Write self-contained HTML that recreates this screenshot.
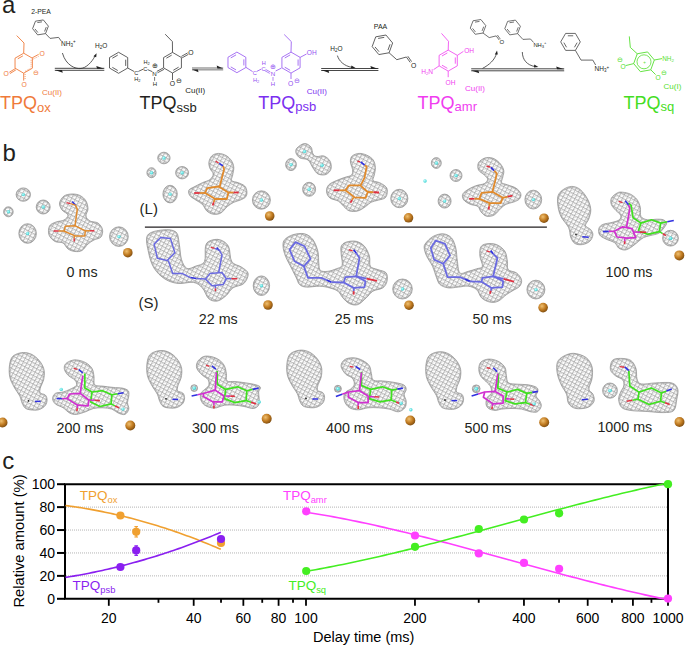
<!DOCTYPE html>
<html><head><meta charset="utf-8"><style>
html,body{margin:0;padding:0;background:#fff;}
svg{display:block;font-family:"Liberation Sans", sans-serif;}
</style></head><body>
<svg width="685" height="645" viewBox="0 0 685 645">
<rect width="685" height="645" fill="#fff"/>
<defs>
<pattern id="mesh" patternUnits="userSpaceOnUse" width="3.8" height="3.8" patternTransform="rotate(28)">
<rect width="3.8" height="3.8" fill="#fdfdfd"/>
<path d="M0,0.3 H3.8 M0.3,0 V3.8" stroke="#888" stroke-width="0.6"/>
<path d="M0,3.8 L3.8,0" stroke="#aaa" stroke-width="0.45"/>
</pattern>
<radialGradient id="cu" cx="0.38" cy="0.35" r="0.7"><stop offset="0" stop-color="#f0c070"/><stop offset="0.55" stop-color="#c07a20"/><stop offset="1" stop-color="#7a4a10"/></radialGradient>
<radialGradient id="cyan" cx="0.4" cy="0.4" r="0.7"><stop offset="0" stop-color="#c0ffff"/><stop offset="1" stop-color="#20c8c8"/></radialGradient>
</defs>
<g id="secA">
<text x="2" y="13.4" font-size="24" fill="#231f20" text-anchor="start" >a</text>
<text x="31.2" y="13.7" font-size="6.8" fill="#231f20" text-anchor="start" >2-PEA</text>
<polygon points="48.4,26.15 43.37,19.93 35.47,21.18 32.6,28.65 37.63,34.87 45.53,33.62" fill="none" stroke="#444" stroke-width="0.8" stroke-linejoin="round"/>
<line x1="41.96" y1="21.84" x2="37.39" y2="22.56" stroke="#444" stroke-width="0.8" />
<line x1="34.95" y1="28.92" x2="37.86" y2="32.51" stroke="#444" stroke-width="0.8" />
<line x1="44.59" y1="31.44" x2="46.24" y2="27.13" stroke="#444" stroke-width="0.8" />
<polyline points="45.5,33.6 50.1,38.4 58.6,37.4 61.2,41" fill="none" stroke="#444" stroke-width="0.8" />
<text x="61" y="45.7" font-size="6.5" fill="#231f20" text-anchor="start" >NH<tspan font-size="4.5" dy="1">3</tspan><tspan font-size="4.5" dy="-3.5">+</tspan></text>
<path d="M62.4,53 C66,66 76,68.8 80,68.6 C86,68.4 92,62 95,56" fill="none" stroke="#333" stroke-width="0.8"/>
<polygon points="96.6,53.3 93.4,56.2 96.2,57.2" fill="#222"/>
<text x="95" y="48.3" font-size="6.5" fill="#231f20" text-anchor="start" >H<tspan font-size="4.5" dy="1">2</tspan><tspan dy="-1">O</tspan></text>
<line x1="54.8" y1="68.3" x2="104.3" y2="68.3" stroke="#333" stroke-width="0.9" />
<line x1="54.8" y1="70.3" x2="104.3" y2="70.3" stroke="#333" stroke-width="0.9" />
<polygon points="104.3,68.7 96.3,65.9 97.1,68.7" fill="#222"/>
<polygon points="54.8,69.9 62.8,72.7 62,69.9" fill="#222"/>
<polygon points="23.7,53.2 15.04,58.2 15.04,68.2 23.7,73.2 32.36,68.2 32.36,58.2" fill="none" stroke="#ef7a3a" stroke-width="0.9" stroke-linejoin="round"/>
<line x1="22.89" y1="55.87" x2="17.76" y2="58.83" stroke="#ef7a3a" stroke-width="0.9" />
<polyline points="23.7,53.2 24,43 16.7,35.6" fill="none" stroke="#ef7a3a" stroke-width="0.9" />
<line x1="32.1" y1="57.9" x2="38.6" y2="54.4" stroke="#ef7a3a" stroke-width="0.9" />
<line x1="32.8" y1="59.3" x2="38.8" y2="56.2" stroke="#ef7a3a" stroke-width="0.7" stroke-dasharray="1,1"/>
<text x="39.4" y="55.6" font-size="6.8" fill="#ef7a3a" text-anchor="start" >O</text>
<line x1="15.3" y1="68.6" x2="9.3" y2="72.3" stroke="#ef7a3a" stroke-width="0.9" />
<line x1="15.9" y1="69.9" x2="9.9" y2="73.6" stroke="#ef7a3a" stroke-width="0.9" />
<text x="3.6" y="76" font-size="6.8" fill="#ef7a3a" text-anchor="start" >O</text>
<line x1="23.7" y1="73.2" x2="23.7" y2="80.6" stroke="#ef7a3a" stroke-width="0.9" />
<line x1="25.1" y1="74" x2="25.1" y2="80" stroke="#ef7a3a" stroke-width="0.7" stroke-dasharray="1,1"/>
<text x="21.6" y="86.8" font-size="6.8" fill="#ef7a3a" text-anchor="start" >O</text>
<line x1="31.1" y1="59.8" x2="31.1" y2="66.6" stroke="#ef7a3a" stroke-width="0.7" stroke-dasharray="1,1"/>
<line x1="25" y1="71.4" x2="30.6" y2="68.2" stroke="#ef7a3a" stroke-width="0.7" stroke-dasharray="1,1"/>
<text x="33.4" y="74.8" font-size="6.5" fill="#ef7a3a" text-anchor="start" >⊖</text>
<text x="42" y="95.3" font-size="8" fill="#ef7a3a" text-anchor="start" >Cu(II)</text>
<text x="0" y="108.9" font-size="18" fill="#ef7a3a" text-anchor="start" >TPQ<tspan font-size="13" dy="2.8">ox</tspan></text>
<polygon points="118.6,52.3 109.51,57.55 109.51,68.05 118.6,73.3 127.69,68.05 127.69,57.55" fill="none" stroke="#3a3a3a" stroke-width="0.8" stroke-linejoin="round"/>
<line x1="117.75" y1="55.1" x2="112.36" y2="58.21" stroke="#3a3a3a" stroke-width="0.8" />
<line x1="112.36" y1="67.39" x2="117.75" y2="70.5" stroke="#3a3a3a" stroke-width="0.8" />
<line x1="125.69" y1="65.91" x2="125.69" y2="59.69" stroke="#3a3a3a" stroke-width="0.8" />
<line x1="127.7" y1="68" x2="134.3" y2="71.6" stroke="#3a3a3a" stroke-width="0.8" />
<text x="136.2" y="74.8" font-size="5.6" fill="#231f20" text-anchor="middle" >C</text>
<text x="137.4" y="80.8" font-size="5.6" fill="#231f20" text-anchor="middle" >H<tspan font-size="4" dy="1">2</tspan></text>
<line x1="138.4" y1="71.4" x2="143.2" y2="69.2" stroke="#3a3a3a" stroke-width="0.8" />
<text x="145.3" y="70.9" font-size="5.6" fill="#231f20" text-anchor="middle" >C</text>
<text x="146.6" y="64.3" font-size="5.6" fill="#231f20" text-anchor="middle" >H<tspan font-size="4" dy="1">2</tspan></text>
<line x1="147.6" y1="69.6" x2="152.4" y2="71.7" stroke="#3a3a3a" stroke-width="0.8" />
<text x="154.6" y="75.7" font-size="6.2" fill="#231f20" text-anchor="middle" >N</text>
<text x="154.6" y="67.6" font-size="7" fill="#231f20" text-anchor="middle" >⊕</text>
<text x="154.9" y="86" font-size="6.0" fill="#231f20" text-anchor="middle" >H</text>
<line x1="154.6" y1="77" x2="154.6" y2="80.8" stroke="#3a3a3a" stroke-width="0.7" />
<line x1="156.8" y1="71.4" x2="163.4" y2="67.9" stroke="#3a3a3a" stroke-width="0.8" />
<line x1="157.5" y1="72.8" x2="164.1" y2="69.3" stroke="#3a3a3a" stroke-width="0.8" />
<polygon points="172.5,52.4 163.58,57.55 163.58,67.85 172.5,73 181.42,67.85 181.42,57.55" fill="none" stroke="#3a3a3a" stroke-width="0.8" stroke-linejoin="round"/>
<line x1="171.67" y1="55.15" x2="166.38" y2="58.2" stroke="#3a3a3a" stroke-width="0.8" />
<line x1="173.33" y1="70.25" x2="178.62" y2="67.2" stroke="#3a3a3a" stroke-width="0.8" />
<polyline points="172.5,52.4 172.4,41.6 165.2,34.2" fill="none" stroke="#3a3a3a" stroke-width="0.8" />
<line x1="181.4" y1="56.4" x2="187.6" y2="52.9" stroke="#3a3a3a" stroke-width="0.8" />
<line x1="182.2" y1="57.8" x2="188.4" y2="54.3" stroke="#3a3a3a" stroke-width="0.8" />
<text x="190.8" y="54.8" font-size="6.8" fill="#231f20" text-anchor="middle" >O</text>
<line x1="172.5" y1="73" x2="172.5" y2="80" stroke="#3a3a3a" stroke-width="0.8" />
<text x="172.3" y="85.8" font-size="6.8" fill="#231f20" text-anchor="middle" >O</text>
<text x="179.2" y="83.4" font-size="6.5" fill="#231f20" text-anchor="middle" >⊖</text>
<text x="185.2" y="92.9" font-size="8" fill="#231f20" text-anchor="start" >Cu(II)</text>
<text x="139.6" y="108.8" font-size="18" fill="#231f20" text-anchor="start" >TPQ<tspan font-size="13" dy="2.8">ssb</tspan></text>
<line x1="192" y1="68" x2="223.2" y2="68" stroke="#999" stroke-width="1.4" />
<line x1="192" y1="69.8" x2="223.2" y2="69.8" stroke="#999" stroke-width="1.4" />
<polygon points="223.2,68.4 216.7,65.6 217.35,68.4" fill="#222"/>
<polygon points="192,69.4 198.5,72.2 197.85,69.4" fill="#222"/>
<polygon points="236.9,52.1 227.98,57.25 227.98,67.55 236.9,72.7 245.82,67.55 245.82,57.25" fill="none" stroke="#9250f0" stroke-width="0.8" stroke-linejoin="round"/>
<line x1="236.07" y1="54.85" x2="230.78" y2="57.9" stroke="#9250f0" stroke-width="0.8" />
<line x1="230.78" y1="66.9" x2="236.07" y2="69.95" stroke="#9250f0" stroke-width="0.8" />
<line x1="243.86" y1="65.45" x2="243.86" y2="59.35" stroke="#9250f0" stroke-width="0.8" />
<line x1="246" y1="67.4" x2="252.6" y2="71.6" stroke="#9250f0" stroke-width="0.8" />
<text x="254.7" y="75.3" font-size="5.6" fill="#9250f0" text-anchor="middle" >C</text>
<text x="256.1" y="82" font-size="5.6" fill="#9250f0" text-anchor="middle" >H<tspan font-size="4" dy="1">2</tspan></text>
<line x1="256.8" y1="71.4" x2="261.4" y2="69" stroke="#9250f0" stroke-width="0.8" />
<text x="263.5" y="70.6" font-size="5.6" fill="#9250f0" text-anchor="middle" >C</text>
<text x="263.8" y="64.6" font-size="5.6" fill="#9250f0" text-anchor="middle" >H</text>
<line x1="265.6" y1="69.4" x2="270.4" y2="72" stroke="#9250f0" stroke-width="0.7" />
<line x1="265" y1="70.8" x2="269.8" y2="73.4" stroke="#9250f0" stroke-width="0.7" />
<text x="273" y="75.6" font-size="6.2" fill="#9250f0" text-anchor="middle" >N</text>
<text x="273" y="69" font-size="7" fill="#9250f0" text-anchor="middle" >⊕</text>
<text x="273" y="85.8" font-size="6.0" fill="#9250f0" text-anchor="middle" >H</text>
<line x1="273" y1="77" x2="273" y2="80.8" stroke="#9250f0" stroke-width="0.7" />
<line x1="275.6" y1="71" x2="281.5" y2="68.1" stroke="#9250f0" stroke-width="0.8" />
<polygon points="291,52.1 281.91,57.35 281.91,67.85 291,73.1 300.09,67.85 300.09,57.35" fill="none" stroke="#9250f0" stroke-width="0.8" stroke-linejoin="round"/>
<line x1="290.15" y1="54.9" x2="284.76" y2="58.01" stroke="#9250f0" stroke-width="0.8" />
<line x1="284.76" y1="67.19" x2="290.15" y2="70.3" stroke="#9250f0" stroke-width="0.8" />
<line x1="298.09" y1="65.71" x2="298.09" y2="59.49" stroke="#9250f0" stroke-width="0.8" />
<polyline points="291,52.1 291.3,41.6 284.2,34.5" fill="none" stroke="#9250f0" stroke-width="0.8" />
<line x1="300.1" y1="57.4" x2="306.5" y2="54" stroke="#9250f0" stroke-width="0.8" />
<text x="306.8" y="54.8" font-size="6.6" fill="#9250f0" text-anchor="start" >OH</text>
<line x1="291" y1="73.1" x2="291" y2="79" stroke="#9250f0" stroke-width="0.8" />
<text x="290.7" y="85.6" font-size="6.8" fill="#9250f0" text-anchor="middle" >O</text>
<text x="296.8" y="83.4" font-size="6.5" fill="#9250f0" text-anchor="middle" >⊖</text>
<text x="306.8" y="93.8" font-size="8" fill="#7b2ff0" text-anchor="start" >Cu(II)</text>
<text x="258.2" y="108.6" font-size="18" fill="#7b2ff0" text-anchor="start" >TPQ<tspan font-size="13" dy="2.8">psb</tspan></text>
<line x1="321.2" y1="68.5" x2="378.4" y2="68.5" stroke="#333" stroke-width="0.9" />
<line x1="321.2" y1="70.5" x2="378.4" y2="70.5" stroke="#333" stroke-width="0.9" />
<polygon points="378.4,68.9 370.4,66.1 371.2,68.9" fill="#222"/>
<polygon points="321.2,70.1 329.2,72.9 328.4,70.1" fill="#222"/>
<text x="330.2" y="50.8" font-size="6.5" fill="#231f20" text-anchor="start" >H<tspan font-size="4.5" dy="1">2</tspan><tspan dy="-1">O</tspan></text>
<path d="M337.4,55.6 C339,61 344,66 352,67.4" fill="none" stroke="#333" stroke-width="0.8"/>
<polygon points="355.6,68.0 351.4,65.6 351.0,68.2" fill="#222"/>
<text x="373.8" y="28.7" font-size="7" fill="#231f20" text-anchor="start" >PAA</text>
<polygon points="392.64,42.99 385.96,35.03 375.72,36.83 372.16,46.61 378.84,54.57 389.08,52.77" fill="none" stroke="#3a3a3a" stroke-width="0.8" stroke-linejoin="round"/>
<line x1="384.22" y1="37.35" x2="378.14" y2="38.42" stroke="#3a3a3a" stroke-width="0.8" />
<line x1="375.04" y1="46.95" x2="379" y2="51.68" stroke="#3a3a3a" stroke-width="0.8" />
<line x1="387.95" y1="50.1" x2="390.06" y2="44.31" stroke="#3a3a3a" stroke-width="0.8" />
<polyline points="389.1,52.8 396.8,59.7 406.4,57 410.2,62.4" fill="none" stroke="#3a3a3a" stroke-width="0.8" />
<line x1="407.8" y1="56.2" x2="411.6" y2="61.6" stroke="#3a3a3a" stroke-width="0.8" />
<text x="413.6" y="68.2" font-size="6.8" fill="#231f20" text-anchor="middle" >O</text>
<polygon points="448.2,50.1 439.11,55.35 439.11,65.85 448.2,71.1 457.29,65.85 457.29,55.35" fill="none" stroke="#f03cf0" stroke-width="0.8" stroke-linejoin="round"/>
<line x1="447.35" y1="52.9" x2="441.96" y2="56.01" stroke="#f03cf0" stroke-width="0.8" />
<line x1="441.96" y1="65.19" x2="447.35" y2="68.3" stroke="#f03cf0" stroke-width="0.8" />
<line x1="455.29" y1="63.71" x2="455.29" y2="57.49" stroke="#f03cf0" stroke-width="0.8" />
<polyline points="448.2,50.1 448.5,41.3 441.5,33.4" fill="none" stroke="#f03cf0" stroke-width="0.8" />
<line x1="457.3" y1="55.4" x2="463.4" y2="51.4" stroke="#f03cf0" stroke-width="0.8" />
<text x="464.2" y="53.3" font-size="6.6" fill="#f03cf0" text-anchor="start" >OH</text>
<line x1="439.1" y1="65.9" x2="433.6" y2="69.6" stroke="#f03cf0" stroke-width="0.8" />
<text x="421.2" y="74.2" font-size="6.6" fill="#f03cf0" text-anchor="start" >H<tspan font-size="4.3" dy="1">2</tspan><tspan dy="-1">N</tspan></text>
<line x1="448.2" y1="71.1" x2="448.2" y2="77.2" stroke="#f03cf0" stroke-width="0.8" />
<text x="445.6" y="84.8" font-size="6.6" fill="#f03cf0" text-anchor="start" >OH</text>
<text x="465" y="91" font-size="8" fill="#f03cf0" text-anchor="start" >Cu(II)</text>
<text x="417.6" y="108.6" font-size="18" fill="#f03cf0" text-anchor="start" >TPQ<tspan font-size="13" dy="2.8">amr</tspan></text>
<line x1="471.2" y1="68.8" x2="564.2" y2="68.8" stroke="#333" stroke-width="0.9" />
<line x1="471.2" y1="70.8" x2="564.2" y2="70.8" stroke="#333" stroke-width="0.9" />
<polygon points="564.2,69.2 556.2,66.4 557,69.2" fill="#222"/>
<polygon points="471.2,70.4 479.2,73.2 478.4,70.4" fill="#222"/>
<polygon points="485.85,25.66 480.88,19.52 473.08,20.76 470.25,28.14 475.22,34.28 483.02,33.04" fill="none" stroke="#444" stroke-width="0.75" stroke-linejoin="round"/>
<line x1="479.49" y1="21.41" x2="474.98" y2="22.12" stroke="#444" stroke-width="0.75" />
<line x1="472.57" y1="28.4" x2="475.44" y2="31.95" stroke="#444" stroke-width="0.75" />
<line x1="482.09" y1="30.89" x2="483.72" y2="26.63" stroke="#444" stroke-width="0.75" />
<polyline points="483,33 489.2,37.6 496.2,35.9 499.2,40" fill="none" stroke="#444" stroke-width="0.75" />
<line x1="497.4" y1="35" x2="500.4" y2="39.2" stroke="#444" stroke-width="0.7" />
<text x="499.4" y="44.4" font-size="6.0" fill="#231f20" text-anchor="start" >O</text>
<path d="M482.5,68.4 C489,65 495,60 496.6,53" fill="none" stroke="#333" stroke-width="0.8"/>
<polygon points="497.0,50.4 494.8,54.4 497.8,54.6" fill="#222"/>
<polygon points="520.4,26.26 515.43,20.12 507.63,21.36 504.8,28.74 509.77,34.88 517.57,33.64" fill="none" stroke="#444" stroke-width="0.75" stroke-linejoin="round"/>
<line x1="514.04" y1="22.01" x2="509.53" y2="22.72" stroke="#444" stroke-width="0.75" />
<line x1="507.12" y1="29" x2="509.99" y2="32.55" stroke="#444" stroke-width="0.75" />
<line x1="516.64" y1="31.49" x2="518.27" y2="27.23" stroke="#444" stroke-width="0.75" />
<polyline points="517.6,33.6 522.9,39.4 530.5,39 533.6,42.5" fill="none" stroke="#444" stroke-width="0.75" />
<text x="533.4" y="46.6" font-size="5.8" fill="#231f20" text-anchor="start" >NH<tspan font-size="4.2" dy="1">3</tspan><tspan font-size="4.2" dy="-3.4">+</tspan></text>
<path d="M522.3,52 C522.5,60 527,65 535,66.6" fill="none" stroke="#333" stroke-width="0.8"/>
<polygon points="538.4,67.0 534.2,64.6 534.0,67.4" fill="#222"/>
<polygon points="580.3,41.9 575.4,33.41 565.6,33.41 560.7,41.9 565.6,50.39 575.4,50.39" fill="none" stroke="#444" stroke-width="0.8" stroke-linejoin="round"/>
<line x1="573.18" y1="35.79" x2="567.82" y2="35.79" stroke="#444" stroke-width="0.8" />
<line x1="563.87" y1="42.63" x2="566.55" y2="47.28" stroke="#444" stroke-width="0.8" />
<line x1="574.45" y1="47.28" x2="577.13" y2="42.63" stroke="#444" stroke-width="0.8" />
<polyline points="575.4,50.4 581,60.1 592.8,60.1 595.6,65" fill="none" stroke="#444" stroke-width="0.8" />
<text x="594.6" y="71" font-size="6.5" fill="#231f20" text-anchor="start" >NH<tspan font-size="4.5" dy="1">3</tspan><tspan font-size="4.5" dy="-3.5">+</tspan></text>
<polygon points="654.34,59.98 647.59,51.93 637.25,53.76 633.66,63.62 640.41,71.67 650.75,69.84" fill="none" stroke="#55e030" stroke-width="0.9"/>
<circle cx="644.0" cy="61.8" r="7.0" fill="none" stroke="#55e030" stroke-width="0.8"/>
<text x="644.6" y="63.6" font-size="4.5" fill="#55e030" text-anchor="middle" >+</text>
<polyline points="637.3,53.8 630.3,47.4 629.3,36.4" fill="none" stroke="#55e030" stroke-width="0.9" />
<line x1="654.3" y1="60" x2="662" y2="58.6" stroke="#55e030" stroke-width="0.9" />
<text x="662.2" y="61" font-size="6.4" fill="#55e030" text-anchor="start" >NH<tspan font-size="4.4" dy="1">2</tspan></text>
<line x1="633.7" y1="63.6" x2="625.6" y2="65.6" stroke="#55e030" stroke-width="0.9" />
<text x="623" y="68.8" font-size="6.6" fill="#55e030" text-anchor="middle" >O</text>
<text x="619.6" y="61.8" font-size="7" fill="#55e030" text-anchor="middle" >⊖</text>
<line x1="650.8" y1="69.8" x2="655.6" y2="74.6" stroke="#55e030" stroke-width="0.9" />
<text x="658" y="80" font-size="6.6" fill="#55e030" text-anchor="middle" >O</text>
<text x="664.4" y="75" font-size="7" fill="#55e030" text-anchor="middle" >⊖</text>
<text x="663.6" y="88.6" font-size="8" fill="#55e030" text-anchor="start" >Cu(I)</text>
<text x="623.6" y="108.6" font-size="18" fill="#44dd22" text-anchor="start" >TPQ<tspan font-size="13" dy="2.8">sq</tspan></text>
</g>
<g id="secB">
<text x="2.4" y="160.6" font-size="24" fill="#231f20" text-anchor="start" >b</text>
<clipPath id="cp1"><path d="M16.1,194.6 a7.2,6.7 0 1,0 14.4,0 a7.2,6.7 0 1,0 -14.4,0 Z"/></clipPath>
<path d="M16.1,194.6 a7.2,6.7 0 1,0 14.4,0 a7.2,6.7 0 1,0 -14.4,0 Z" fill="url(#mesh)" stroke="#9a9a9a" stroke-width="3.0" stroke-opacity="0.4" clip-path="url(#cp1)"/>
<path d="M16.1,194.6 a7.2,6.7 0 1,0 14.4,0 a7.2,6.7 0 1,0 -14.4,0 Z" fill="none" stroke="#8a8a8a" stroke-width="0.7"/>
<circle cx="23.3" cy="194.6" r="1.7" fill="url(#cyan)"/>
<clipPath id="cp2"><path d="M36.2,207 a7,7 0 1,0 14,0 a7,7 0 1,0 -14,0 Z"/></clipPath>
<path d="M36.2,207 a7,7 0 1,0 14,0 a7,7 0 1,0 -14,0 Z" fill="url(#mesh)" stroke="#9a9a9a" stroke-width="3.0" stroke-opacity="0.4" clip-path="url(#cp2)"/>
<path d="M36.2,207 a7,7 0 1,0 14,0 a7,7 0 1,0 -14,0 Z" fill="none" stroke="#8a8a8a" stroke-width="0.7"/>
<circle cx="43.2" cy="207" r="1.7" fill="url(#cyan)"/>
<clipPath id="cp3"><path d="M3.6,211.8 a4.8,5 0 1,0 9.6,0 a4.8,5 0 1,0 -9.6,0 Z"/></clipPath>
<path d="M3.6,211.8 a4.8,5 0 1,0 9.6,0 a4.8,5 0 1,0 -9.6,0 Z" fill="url(#mesh)" stroke="#9a9a9a" stroke-width="3.0" stroke-opacity="0.4" clip-path="url(#cp3)"/>
<path d="M3.6,211.8 a4.8,5 0 1,0 9.6,0 a4.8,5 0 1,0 -9.6,0 Z" fill="none" stroke="#8a8a8a" stroke-width="0.7"/>
<circle cx="8.4" cy="211.8" r="1.7" fill="url(#cyan)"/>
<clipPath id="cp4"><path d="M18.8,233.5 a8.8,9.8 0 1,0 17.6,0 a8.8,9.8 0 1,0 -17.6,0 Z"/></clipPath>
<path d="M18.8,233.5 a8.8,9.8 0 1,0 17.6,0 a8.8,9.8 0 1,0 -17.6,0 Z" fill="url(#mesh)" stroke="#9a9a9a" stroke-width="3.0" stroke-opacity="0.4" clip-path="url(#cp4)"/>
<path d="M18.8,233.5 a8.8,9.8 0 1,0 17.6,0 a8.8,9.8 0 1,0 -17.6,0 Z" fill="none" stroke="#8a8a8a" stroke-width="0.7"/>
<circle cx="27.6" cy="233.5" r="1.7" fill="url(#cyan)"/>
<clipPath id="cp5"><path d="M109.5,236.6 a9.4,9.8 0 1,0 18.8,0 a9.4,9.8 0 1,0 -18.8,0 Z"/></clipPath>
<path d="M109.5,236.6 a9.4,9.8 0 1,0 18.8,0 a9.4,9.8 0 1,0 -18.8,0 Z" fill="url(#mesh)" stroke="#9a9a9a" stroke-width="3.0" stroke-opacity="0.4" clip-path="url(#cp5)"/>
<path d="M109.5,236.6 a9.4,9.8 0 1,0 18.8,0 a9.4,9.8 0 1,0 -18.8,0 Z" fill="none" stroke="#8a8a8a" stroke-width="0.7"/>
<circle cx="118.9" cy="236.6" r="1.7" fill="url(#cyan)"/>
<clipPath id="cp6"><path d="M72,194 C74.67,193.92 77.67,194.33 80,195.5 C82.33,196.67 84.67,198.75 86,201 C87.33,203.25 88,206.5 88,209 C88,211.5 85.67,214 86,216 C86.33,218 88,219.83 90,221 C92,222.17 95.92,221.58 98,223 C100.08,224.42 102,227.17 102.5,229.5 C103,231.83 102.42,235.25 101,237 C99.58,238.75 96.17,238.83 94,240 C91.83,241.17 90,242.25 88,244 C86,245.75 84.17,249.25 82,250.5 C79.83,251.75 77.33,251.75 75,251.5 C72.67,251.25 70,250.42 68,249 C66,247.58 65.17,244.25 63,243 C60.83,241.75 57.33,242.83 55,241.5 C52.67,240.17 49.92,237.58 49,235 C48.08,232.42 48.33,228.17 49.5,226 C50.67,223.83 53.58,223 56,222 C58.42,221 62,221.17 64,220 C66,218.83 68.33,216.67 68,215 C67.67,213.33 63.42,212 62,210 C60.58,208 59.17,205.33 59.5,203 C59.83,200.67 61.92,197.5 64,196 C66.08,194.5 69.33,194.08 72,194 Z"/></clipPath>
<path d="M72,194 C74.67,193.92 77.67,194.33 80,195.5 C82.33,196.67 84.67,198.75 86,201 C87.33,203.25 88,206.5 88,209 C88,211.5 85.67,214 86,216 C86.33,218 88,219.83 90,221 C92,222.17 95.92,221.58 98,223 C100.08,224.42 102,227.17 102.5,229.5 C103,231.83 102.42,235.25 101,237 C99.58,238.75 96.17,238.83 94,240 C91.83,241.17 90,242.25 88,244 C86,245.75 84.17,249.25 82,250.5 C79.83,251.75 77.33,251.75 75,251.5 C72.67,251.25 70,250.42 68,249 C66,247.58 65.17,244.25 63,243 C60.83,241.75 57.33,242.83 55,241.5 C52.67,240.17 49.92,237.58 49,235 C48.08,232.42 48.33,228.17 49.5,226 C50.67,223.83 53.58,223 56,222 C58.42,221 62,221.17 64,220 C66,218.83 68.33,216.67 68,215 C67.67,213.33 63.42,212 62,210 C60.58,208 59.17,205.33 59.5,203 C59.83,200.67 61.92,197.5 64,196 C66.08,194.5 69.33,194.08 72,194 Z" fill="url(#mesh)" stroke="#9a9a9a" stroke-width="3.0" stroke-opacity="0.4" clip-path="url(#cp6)"/>
<path d="M72,194 C74.67,193.92 77.67,194.33 80,195.5 C82.33,196.67 84.67,198.75 86,201 C87.33,203.25 88,206.5 88,209 C88,211.5 85.67,214 86,216 C86.33,218 88,219.83 90,221 C92,222.17 95.92,221.58 98,223 C100.08,224.42 102,227.17 102.5,229.5 C103,231.83 102.42,235.25 101,237 C99.58,238.75 96.17,238.83 94,240 C91.83,241.17 90,242.25 88,244 C86,245.75 84.17,249.25 82,250.5 C79.83,251.75 77.33,251.75 75,251.5 C72.67,251.25 70,250.42 68,249 C66,247.58 65.17,244.25 63,243 C60.83,241.75 57.33,242.83 55,241.5 C52.67,240.17 49.92,237.58 49,235 C48.08,232.42 48.33,228.17 49.5,226 C50.67,223.83 53.58,223 56,222 C58.42,221 62,221.17 64,220 C66,218.83 68.33,216.67 68,215 C67.67,213.33 63.42,212 62,210 C60.58,208 59.17,205.33 59.5,203 C59.83,200.67 61.92,197.5 64,196 C66.08,194.5 69.33,194.08 72,194 Z" fill="none" stroke="#8a8a8a" stroke-width="0.7"/>
<polygon points="65.2,226.3 75.3,225.8 85.3,230.8 84.8,235.9 75.3,235.9 64.2,231.3" fill="none" stroke="#e08a2c" stroke-width="1.5" stroke-linejoin="round"/>
<line x1="64.2" y1="231" x2="58.5" y2="231" stroke="#e08a2c" stroke-width="1.5" />
<line x1="58.5" y1="231" x2="53.6" y2="231" stroke="#e03040" stroke-width="1.5" />
<line x1="85.3" y1="230.8" x2="90" y2="230.8" stroke="#e08a2c" stroke-width="1.5" />
<line x1="90" y1="230.8" x2="94.4" y2="230.8" stroke="#e03040" stroke-width="1.5" />
<line x1="74.2" y1="235.9" x2="74.2" y2="238.5" stroke="#e08a2c" stroke-width="1.5" />
<line x1="74.2" y1="238.5" x2="74.2" y2="241.5" stroke="#e03040" stroke-width="1.5" />
<polyline points="75,226 77.3,209.2 75.3,205.1" fill="none" stroke="#e08a2c" stroke-width="1.5" stroke-linejoin="round"/>
<line x1="75.3" y1="205.1" x2="72.2" y2="201.6" stroke="#3030e0" stroke-width="1.5" />
<line x1="75.3" y1="205.1" x2="70.5" y2="203.6" stroke="#e08a2c" stroke-width="1.3" />
<line x1="70.5" y1="203.6" x2="66.5" y2="202.6" stroke="#e03040" stroke-width="1.3" />
<circle cx="127.8" cy="252.7" r="4.8" fill="url(#cu)"/>
<text x="66.6" y="276.6" font-size="14.3" fill="#231f20" text-anchor="start" >0 ms</text>
<text x="139.6" y="214" font-size="15" fill="#231f20" text-anchor="start" >(L)</text>
<line x1="144.9" y1="227.2" x2="546.9" y2="227.2" stroke="#231f20" stroke-width="1.3" />
<clipPath id="cp7"><path d="M157.7,158 a6.2,5.8 0 1,0 12.4,0 a6.2,5.8 0 1,0 -12.4,0 Z"/></clipPath>
<path d="M157.7,158 a6.2,5.8 0 1,0 12.4,0 a6.2,5.8 0 1,0 -12.4,0 Z" fill="url(#mesh)" stroke="#9a9a9a" stroke-width="3.0" stroke-opacity="0.4" clip-path="url(#cp7)"/>
<path d="M157.7,158 a6.2,5.8 0 1,0 12.4,0 a6.2,5.8 0 1,0 -12.4,0 Z" fill="none" stroke="#8a8a8a" stroke-width="0.7"/>
<circle cx="163.9" cy="158" r="1.7" fill="url(#cyan)"/>
<clipPath id="cp8"><path d="M146.9,172.7 a4.6,5 0 1,0 9.2,0 a4.6,5 0 1,0 -9.2,0 Z"/></clipPath>
<path d="M146.9,172.7 a4.6,5 0 1,0 9.2,0 a4.6,5 0 1,0 -9.2,0 Z" fill="url(#mesh)" stroke="#9a9a9a" stroke-width="3.0" stroke-opacity="0.4" clip-path="url(#cp8)"/>
<path d="M146.9,172.7 a4.6,5 0 1,0 9.2,0 a4.6,5 0 1,0 -9.2,0 Z" fill="none" stroke="#8a8a8a" stroke-width="0.7"/>
<circle cx="151.5" cy="172.7" r="1.7" fill="url(#cyan)"/>
<clipPath id="cp9"><path d="M175.6,172.7 a6.5,6.2 0 1,0 13,0 a6.5,6.2 0 1,0 -13,0 Z"/></clipPath>
<path d="M175.6,172.7 a6.5,6.2 0 1,0 13,0 a6.5,6.2 0 1,0 -13,0 Z" fill="url(#mesh)" stroke="#9a9a9a" stroke-width="3.0" stroke-opacity="0.4" clip-path="url(#cp9)"/>
<path d="M175.6,172.7 a6.5,6.2 0 1,0 13,0 a6.5,6.2 0 1,0 -13,0 Z" fill="none" stroke="#8a8a8a" stroke-width="0.7"/>
<circle cx="182.1" cy="172.7" r="1.7" fill="url(#cyan)"/>
<clipPath id="cp10"><path d="M162.9,194.1 a7.2,8.8 0 1,0 14.4,0 a7.2,8.8 0 1,0 -14.4,0 Z"/></clipPath>
<path d="M162.9,194.1 a7.2,8.8 0 1,0 14.4,0 a7.2,8.8 0 1,0 -14.4,0 Z" fill="url(#mesh)" stroke="#9a9a9a" stroke-width="3.0" stroke-opacity="0.4" clip-path="url(#cp10)"/>
<path d="M162.9,194.1 a7.2,8.8 0 1,0 14.4,0 a7.2,8.8 0 1,0 -14.4,0 Z" fill="none" stroke="#8a8a8a" stroke-width="0.7"/>
<circle cx="170.1" cy="194.1" r="1.7" fill="url(#cyan)"/>
<clipPath id="cp11"><path d="M252.4,200 a9,9.2 0 1,0 18,0 a9,9.2 0 1,0 -18,0 Z"/></clipPath>
<path d="M252.4,200 a9,9.2 0 1,0 18,0 a9,9.2 0 1,0 -18,0 Z" fill="url(#mesh)" stroke="#9a9a9a" stroke-width="3.0" stroke-opacity="0.4" clip-path="url(#cp11)"/>
<path d="M252.4,200 a9,9.2 0 1,0 18,0 a9,9.2 0 1,0 -18,0 Z" fill="none" stroke="#8a8a8a" stroke-width="0.7"/>
<circle cx="261.4" cy="200" r="1.7" fill="url(#cyan)"/>
<clipPath id="cp12"><path d="M212.1,155.6 C213.72,154.15 216.25,153.4 218.6,153.4 C220.95,153.4 224.02,154.33 226.2,155.6 C228.38,156.87 230.43,159.02 231.7,161 C232.97,162.98 233.63,165.15 233.8,167.5 C233.97,169.85 233.05,172.92 232.7,175.1 C232.35,177.28 230.78,179.33 231.7,180.6 C232.62,181.87 236.03,181.8 238.2,182.7 C240.37,183.6 243.25,184.55 244.7,186 C246.15,187.45 246.72,189.6 246.9,191.4 C247.08,193.2 246.9,195.35 245.8,196.8 C244.7,198.25 242.3,199.18 240.3,200.1 C238.3,201.02 235.97,201.22 233.8,202.3 C231.63,203.38 229.47,204.8 227.3,206.6 C225.13,208.4 223.15,211.83 220.8,213.1 C218.45,214.37 215.55,214.57 213.2,214.2 C210.85,213.83 208.5,212.53 206.7,210.9 C204.9,209.27 204.2,206.2 202.4,204.4 C200.6,202.6 197.98,201.55 195.9,200.1 C193.82,198.65 191.08,197.33 189.9,195.7 C188.72,194.07 188.17,191.73 188.8,190.3 C189.43,188.87 191.43,188.37 193.7,187.1 C195.97,185.83 199.68,183.97 202.4,182.7 C205.12,181.43 208.2,180.95 210,179.5 C211.8,178.05 213.2,175.82 213.2,174 C213.2,172.18 210.72,170.58 210,168.6 C209.28,166.62 208.55,164.27 208.9,162.1 C209.25,159.93 210.48,157.05 212.1,155.6 Z"/></clipPath>
<path d="M212.1,155.6 C213.72,154.15 216.25,153.4 218.6,153.4 C220.95,153.4 224.02,154.33 226.2,155.6 C228.38,156.87 230.43,159.02 231.7,161 C232.97,162.98 233.63,165.15 233.8,167.5 C233.97,169.85 233.05,172.92 232.7,175.1 C232.35,177.28 230.78,179.33 231.7,180.6 C232.62,181.87 236.03,181.8 238.2,182.7 C240.37,183.6 243.25,184.55 244.7,186 C246.15,187.45 246.72,189.6 246.9,191.4 C247.08,193.2 246.9,195.35 245.8,196.8 C244.7,198.25 242.3,199.18 240.3,200.1 C238.3,201.02 235.97,201.22 233.8,202.3 C231.63,203.38 229.47,204.8 227.3,206.6 C225.13,208.4 223.15,211.83 220.8,213.1 C218.45,214.37 215.55,214.57 213.2,214.2 C210.85,213.83 208.5,212.53 206.7,210.9 C204.9,209.27 204.2,206.2 202.4,204.4 C200.6,202.6 197.98,201.55 195.9,200.1 C193.82,198.65 191.08,197.33 189.9,195.7 C188.72,194.07 188.17,191.73 188.8,190.3 C189.43,188.87 191.43,188.37 193.7,187.1 C195.97,185.83 199.68,183.97 202.4,182.7 C205.12,181.43 208.2,180.95 210,179.5 C211.8,178.05 213.2,175.82 213.2,174 C213.2,172.18 210.72,170.58 210,168.6 C209.28,166.62 208.55,164.27 208.9,162.1 C209.25,159.93 210.48,157.05 212.1,155.6 Z" fill="url(#mesh)" stroke="#9a9a9a" stroke-width="3.0" stroke-opacity="0.4" clip-path="url(#cp12)"/>
<path d="M212.1,155.6 C213.72,154.15 216.25,153.4 218.6,153.4 C220.95,153.4 224.02,154.33 226.2,155.6 C228.38,156.87 230.43,159.02 231.7,161 C232.97,162.98 233.63,165.15 233.8,167.5 C233.97,169.85 233.05,172.92 232.7,175.1 C232.35,177.28 230.78,179.33 231.7,180.6 C232.62,181.87 236.03,181.8 238.2,182.7 C240.37,183.6 243.25,184.55 244.7,186 C246.15,187.45 246.72,189.6 246.9,191.4 C247.08,193.2 246.9,195.35 245.8,196.8 C244.7,198.25 242.3,199.18 240.3,200.1 C238.3,201.02 235.97,201.22 233.8,202.3 C231.63,203.38 229.47,204.8 227.3,206.6 C225.13,208.4 223.15,211.83 220.8,213.1 C218.45,214.37 215.55,214.57 213.2,214.2 C210.85,213.83 208.5,212.53 206.7,210.9 C204.9,209.27 204.2,206.2 202.4,204.4 C200.6,202.6 197.98,201.55 195.9,200.1 C193.82,198.65 191.08,197.33 189.9,195.7 C188.72,194.07 188.17,191.73 188.8,190.3 C189.43,188.87 191.43,188.37 193.7,187.1 C195.97,185.83 199.68,183.97 202.4,182.7 C205.12,181.43 208.2,180.95 210,179.5 C211.8,178.05 213.2,175.82 213.2,174 C213.2,172.18 210.72,170.58 210,168.6 C209.28,166.62 208.55,164.27 208.9,162.1 C209.25,159.93 210.48,157.05 212.1,155.6 Z" fill="none" stroke="#8a8a8a" stroke-width="0.7"/>
<polygon points="207.2,188.2 218.6,186.5 228.4,192.5 226.8,199 215.4,199 205.1,193" fill="none" stroke="#e08a2c" stroke-width="1.8" stroke-linejoin="round"/>
<line x1="205.1" y1="193" x2="199.65" y2="193" stroke="#e08a2c" stroke-width="1.8" />
<line x1="199.65" y1="193" x2="194.2" y2="193" stroke="#e03040" stroke-width="1.8" />
<line x1="228.4" y1="192.5" x2="233.55" y2="192.5" stroke="#e08a2c" stroke-width="1.8" />
<line x1="233.55" y1="192.5" x2="238.7" y2="192.5" stroke="#e03040" stroke-width="1.8" />
<line x1="214.8" y1="199" x2="213.75" y2="202.25" stroke="#e08a2c" stroke-width="1.8" />
<line x1="213.75" y1="202.25" x2="212.7" y2="205.5" stroke="#e03040" stroke-width="1.8" />
<polyline points="219.7,186.5 224.1,169.2 223,165.9" fill="none" stroke="#e08a2c" stroke-width="1.8" stroke-linejoin="round"/>
<line x1="223" y1="165.9" x2="219.2" y2="163.4" stroke="#3030e0" stroke-width="1.7" />
<line x1="218.6" y1="163" x2="215.6" y2="161.2" stroke="#e03040" stroke-width="1.4" />
<circle cx="269.7" cy="216" r="4.8" fill="url(#cu)"/>
<clipPath id="cp13"><path d="M297,148 C298.42,146.42 302.17,143.67 304.5,143.5 C306.83,143.33 309.58,145.25 311,147 C312.42,148.75 312,152.42 313,154 C314,155.58 315.17,156.17 317,156.5 C318.83,156.83 321.83,155.25 324,156 C326.17,156.75 328.83,158.83 330,161 C331.17,163.17 331.67,166.75 331,169 C330.33,171.25 328.17,173.67 326,174.5 C323.83,175.33 320.17,175.08 318,174 C315.83,172.92 314.67,170.33 313,168 C311.33,165.67 310.17,161.67 308,160 C305.83,158.33 302,159.17 300,158 C298,156.83 296.5,154.67 296,153 C295.5,151.33 295.58,149.58 297,148 Z"/></clipPath>
<path d="M297,148 C298.42,146.42 302.17,143.67 304.5,143.5 C306.83,143.33 309.58,145.25 311,147 C312.42,148.75 312,152.42 313,154 C314,155.58 315.17,156.17 317,156.5 C318.83,156.83 321.83,155.25 324,156 C326.17,156.75 328.83,158.83 330,161 C331.17,163.17 331.67,166.75 331,169 C330.33,171.25 328.17,173.67 326,174.5 C323.83,175.33 320.17,175.08 318,174 C315.83,172.92 314.67,170.33 313,168 C311.33,165.67 310.17,161.67 308,160 C305.83,158.33 302,159.17 300,158 C298,156.83 296.5,154.67 296,153 C295.5,151.33 295.58,149.58 297,148 Z" fill="url(#mesh)" stroke="#9a9a9a" stroke-width="3.0" stroke-opacity="0.4" clip-path="url(#cp13)"/>
<path d="M297,148 C298.42,146.42 302.17,143.67 304.5,143.5 C306.83,143.33 309.58,145.25 311,147 C312.42,148.75 312,152.42 313,154 C314,155.58 315.17,156.17 317,156.5 C318.83,156.83 321.83,155.25 324,156 C326.17,156.75 328.83,158.83 330,161 C331.17,163.17 331.67,166.75 331,169 C330.33,171.25 328.17,173.67 326,174.5 C323.83,175.33 320.17,175.08 318,174 C315.83,172.92 314.67,170.33 313,168 C311.33,165.67 310.17,161.67 308,160 C305.83,158.33 302,159.17 300,158 C298,156.83 296.5,154.67 296,153 C295.5,151.33 295.58,149.58 297,148 Z" fill="none" stroke="#8a8a8a" stroke-width="0.7"/>
<circle cx="304.5" cy="151.4" r="1.7" fill="url(#cyan)"/>
<circle cx="322" cy="165.2" r="1.7" fill="url(#cyan)"/>
<clipPath id="cp14"><path d="M285.6,164.6 a5.4,6 0 1,0 10.8,0 a5.4,6 0 1,0 -10.8,0 Z"/></clipPath>
<path d="M285.6,164.6 a5.4,6 0 1,0 10.8,0 a5.4,6 0 1,0 -10.8,0 Z" fill="url(#mesh)" stroke="#9a9a9a" stroke-width="3.0" stroke-opacity="0.4" clip-path="url(#cp14)"/>
<path d="M285.6,164.6 a5.4,6 0 1,0 10.8,0 a5.4,6 0 1,0 -10.8,0 Z" fill="none" stroke="#8a8a8a" stroke-width="0.7"/>
<circle cx="291" cy="164.6" r="1.7" fill="url(#cyan)"/>
<clipPath id="cp15"><path d="M302.6,189.3 a6.5,7 0 1,0 13,0 a6.5,7 0 1,0 -13,0 Z"/></clipPath>
<path d="M302.6,189.3 a6.5,7 0 1,0 13,0 a6.5,7 0 1,0 -13,0 Z" fill="url(#mesh)" stroke="#9a9a9a" stroke-width="3.0" stroke-opacity="0.4" clip-path="url(#cp15)"/>
<path d="M302.6,189.3 a6.5,7 0 1,0 13,0 a6.5,7 0 1,0 -13,0 Z" fill="none" stroke="#8a8a8a" stroke-width="0.7"/>
<circle cx="309.1" cy="189.3" r="1.7" fill="url(#cyan)"/>
<clipPath id="cp16"><path d="M390.7,198.5 a8.6,9.2 0 1,0 17.2,0 a8.6,9.2 0 1,0 -17.2,0 Z"/></clipPath>
<path d="M390.7,198.5 a8.6,9.2 0 1,0 17.2,0 a8.6,9.2 0 1,0 -17.2,0 Z" fill="url(#mesh)" stroke="#9a9a9a" stroke-width="3.0" stroke-opacity="0.4" clip-path="url(#cp16)"/>
<path d="M390.7,198.5 a8.6,9.2 0 1,0 17.2,0 a8.6,9.2 0 1,0 -17.2,0 Z" fill="none" stroke="#8a8a8a" stroke-width="0.7"/>
<circle cx="399.3" cy="198.5" r="1.7" fill="url(#cyan)"/>
<circle cx="425" cy="181" r="1.7" fill="url(#cyan)"/>
<clipPath id="cp17"><path d="M352.6,155.6 C354.05,154.52 356.75,153.48 359.1,153.4 C361.45,153.32 364.35,154.02 366.7,155.1 C369.05,156.18 371.75,157.83 373.2,159.9 C374.65,161.97 375.22,164.97 375.4,167.5 C375.58,170.03 374.67,172.92 374.3,175.1 C373.93,177.28 372.3,179.33 373.2,180.6 C374.1,181.87 377.53,181.62 379.7,182.7 C381.87,183.78 384.93,185.47 386.2,187.1 C387.47,188.73 387.48,190.7 387.3,192.5 C387.12,194.3 386.55,196.63 385.1,197.9 C383.65,199.17 380.95,199.37 378.6,200.1 C376.25,200.83 373.17,201.22 371,202.3 C368.83,203.38 367.77,205.17 365.6,206.6 C363.43,208.03 360.72,210.18 358,210.9 C355.28,211.62 351.65,211.62 349.3,210.9 C346.95,210.18 345.7,208.22 343.9,206.6 C342.1,204.98 340.85,202.65 338.5,201.2 C336.15,199.75 331.8,199.53 329.8,197.9 C327.8,196.27 326.68,193.57 326.5,191.4 C326.32,189.23 327.07,186.7 328.7,184.9 C330.33,183.1 333.58,181.87 336.3,180.6 C339.02,179.33 342.47,178.22 345,177.3 C347.53,176.38 350.23,176.37 351.5,175.1 C352.77,173.83 352.7,171.5 352.6,169.7 C352.5,167.9 351.27,165.93 350.9,164.3 C350.53,162.67 350.12,161.35 350.4,159.9 C350.68,158.45 351.15,156.68 352.6,155.6 Z"/></clipPath>
<path d="M352.6,155.6 C354.05,154.52 356.75,153.48 359.1,153.4 C361.45,153.32 364.35,154.02 366.7,155.1 C369.05,156.18 371.75,157.83 373.2,159.9 C374.65,161.97 375.22,164.97 375.4,167.5 C375.58,170.03 374.67,172.92 374.3,175.1 C373.93,177.28 372.3,179.33 373.2,180.6 C374.1,181.87 377.53,181.62 379.7,182.7 C381.87,183.78 384.93,185.47 386.2,187.1 C387.47,188.73 387.48,190.7 387.3,192.5 C387.12,194.3 386.55,196.63 385.1,197.9 C383.65,199.17 380.95,199.37 378.6,200.1 C376.25,200.83 373.17,201.22 371,202.3 C368.83,203.38 367.77,205.17 365.6,206.6 C363.43,208.03 360.72,210.18 358,210.9 C355.28,211.62 351.65,211.62 349.3,210.9 C346.95,210.18 345.7,208.22 343.9,206.6 C342.1,204.98 340.85,202.65 338.5,201.2 C336.15,199.75 331.8,199.53 329.8,197.9 C327.8,196.27 326.68,193.57 326.5,191.4 C326.32,189.23 327.07,186.7 328.7,184.9 C330.33,183.1 333.58,181.87 336.3,180.6 C339.02,179.33 342.47,178.22 345,177.3 C347.53,176.38 350.23,176.37 351.5,175.1 C352.77,173.83 352.7,171.5 352.6,169.7 C352.5,167.9 351.27,165.93 350.9,164.3 C350.53,162.67 350.12,161.35 350.4,159.9 C350.68,158.45 351.15,156.68 352.6,155.6 Z" fill="url(#mesh)" stroke="#9a9a9a" stroke-width="3.0" stroke-opacity="0.4" clip-path="url(#cp17)"/>
<path d="M352.6,155.6 C354.05,154.52 356.75,153.48 359.1,153.4 C361.45,153.32 364.35,154.02 366.7,155.1 C369.05,156.18 371.75,157.83 373.2,159.9 C374.65,161.97 375.22,164.97 375.4,167.5 C375.58,170.03 374.67,172.92 374.3,175.1 C373.93,177.28 372.3,179.33 373.2,180.6 C374.1,181.87 377.53,181.62 379.7,182.7 C381.87,183.78 384.93,185.47 386.2,187.1 C387.47,188.73 387.48,190.7 387.3,192.5 C387.12,194.3 386.55,196.63 385.1,197.9 C383.65,199.17 380.95,199.37 378.6,200.1 C376.25,200.83 373.17,201.22 371,202.3 C368.83,203.38 367.77,205.17 365.6,206.6 C363.43,208.03 360.72,210.18 358,210.9 C355.28,211.62 351.65,211.62 349.3,210.9 C346.95,210.18 345.7,208.22 343.9,206.6 C342.1,204.98 340.85,202.65 338.5,201.2 C336.15,199.75 331.8,199.53 329.8,197.9 C327.8,196.27 326.68,193.57 326.5,191.4 C326.32,189.23 327.07,186.7 328.7,184.9 C330.33,183.1 333.58,181.87 336.3,180.6 C339.02,179.33 342.47,178.22 345,177.3 C347.53,176.38 350.23,176.37 351.5,175.1 C352.77,173.83 352.7,171.5 352.6,169.7 C352.5,167.9 351.27,165.93 350.9,164.3 C350.53,162.67 350.12,161.35 350.4,159.9 C350.68,158.45 351.15,156.68 352.6,155.6 Z" fill="none" stroke="#8a8a8a" stroke-width="0.7"/>
<polygon points="348.8,185.4 360.2,185.4 367.8,192 365.6,197.9 354.7,197.4 345.5,190.3" fill="none" stroke="#e08a2c" stroke-width="1.8" stroke-linejoin="round"/>
<line x1="345.5" y1="190.3" x2="339.55" y2="190.3" stroke="#e08a2c" stroke-width="1.8" />
<line x1="339.55" y1="190.3" x2="333.6" y2="190.3" stroke="#e03040" stroke-width="1.8" />
<line x1="367.8" y1="192" x2="373.45" y2="192.25" stroke="#e08a2c" stroke-width="1.8" />
<line x1="373.45" y1="192.25" x2="379.1" y2="192.5" stroke="#e03040" stroke-width="1.8" />
<line x1="353.6" y1="197.4" x2="352" y2="200.1" stroke="#e08a2c" stroke-width="1.8" />
<line x1="352" y1="200.1" x2="350.4" y2="202.8" stroke="#e03040" stroke-width="1.8" />
<polyline points="360.7,185.4 364.5,177.8 366.7,166.5 364.5,165.2" fill="none" stroke="#e08a2c" stroke-width="1.8" stroke-linejoin="round"/>
<line x1="364.5" y1="165.2" x2="360.7" y2="161.8" stroke="#3030e0" stroke-width="1.7" />
<line x1="360" y1="161.8" x2="357.4" y2="161.2" stroke="#e03040" stroke-width="1.4" />
<circle cx="408.5" cy="217.8" r="4.8" fill="url(#cu)"/>
<clipPath id="cp18"><path d="M431.3,163 a5,5.4 0 1,0 10,0 a5,5.4 0 1,0 -10,0 Z"/></clipPath>
<path d="M431.3,163 a5,5.4 0 1,0 10,0 a5,5.4 0 1,0 -10,0 Z" fill="url(#mesh)" stroke="#9a9a9a" stroke-width="3.0" stroke-opacity="0.4" clip-path="url(#cp18)"/>
<path d="M431.3,163 a5,5.4 0 1,0 10,0 a5,5.4 0 1,0 -10,0 Z" fill="none" stroke="#8a8a8a" stroke-width="0.7"/>
<circle cx="436.3" cy="163" r="1.7" fill="url(#cyan)"/>
<clipPath id="cp19"><path d="M450,175.5 a6,6 0 1,0 12,0 a6,6 0 1,0 -12,0 Z"/></clipPath>
<path d="M450,175.5 a6,6 0 1,0 12,0 a6,6 0 1,0 -12,0 Z" fill="url(#mesh)" stroke="#9a9a9a" stroke-width="3.0" stroke-opacity="0.4" clip-path="url(#cp19)"/>
<path d="M450,175.5 a6,6 0 1,0 12,0 a6,6 0 1,0 -12,0 Z" fill="none" stroke="#8a8a8a" stroke-width="0.7"/>
<circle cx="456" cy="175.5" r="1.7" fill="url(#cyan)"/>
<clipPath id="cp20"><path d="M438.1,201.1 a6.5,7 0 1,0 13,0 a6.5,7 0 1,0 -13,0 Z"/></clipPath>
<path d="M438.1,201.1 a6.5,7 0 1,0 13,0 a6.5,7 0 1,0 -13,0 Z" fill="url(#mesh)" stroke="#9a9a9a" stroke-width="3.0" stroke-opacity="0.4" clip-path="url(#cp20)"/>
<path d="M438.1,201.1 a6.5,7 0 1,0 13,0 a6.5,7 0 1,0 -13,0 Z" fill="none" stroke="#8a8a8a" stroke-width="0.7"/>
<circle cx="444.6" cy="201.1" r="1.7" fill="url(#cyan)"/>
<clipPath id="cp21"><path d="M524.9,199.6 a8.4,9.4 0 1,0 16.8,0 a8.4,9.4 0 1,0 -16.8,0 Z"/></clipPath>
<path d="M524.9,199.6 a8.4,9.4 0 1,0 16.8,0 a8.4,9.4 0 1,0 -16.8,0 Z" fill="url(#mesh)" stroke="#9a9a9a" stroke-width="3.0" stroke-opacity="0.4" clip-path="url(#cp21)"/>
<path d="M524.9,199.6 a8.4,9.4 0 1,0 16.8,0 a8.4,9.4 0 1,0 -16.8,0 Z" fill="none" stroke="#8a8a8a" stroke-width="0.7"/>
<circle cx="533.3" cy="199.6" r="1.7" fill="url(#cyan)"/>
<clipPath id="cp22"><path d="M480,160.9 C481.45,159.63 484.15,157.97 486.5,157.6 C488.85,157.23 491.75,157.62 494.1,158.7 C496.45,159.78 498.98,162.12 500.6,164.1 C502.22,166.08 503.43,168.43 503.8,170.6 C504.17,172.77 503.15,175.1 502.8,177.1 C502.45,179.1 500.98,181.33 501.7,182.6 C502.42,183.87 504.75,183.8 507.1,184.7 C509.45,185.6 513.53,186.55 515.8,188 C518.07,189.45 520.07,191.6 520.7,193.4 C521.33,195.2 520.78,197.35 519.6,198.8 C518.42,200.25 515.87,201.18 513.6,202.1 C511.33,203.02 508.17,203.22 506,204.3 C503.83,205.38 502.58,206.8 500.6,208.6 C498.62,210.4 496.45,213.83 494.1,215.1 C491.75,216.37 488.68,216.73 486.5,216.2 C484.32,215.67 482.45,213.53 481,211.9 C479.55,210.27 479.6,207.67 477.8,206.4 C476,205.13 472.55,205.38 470.2,204.3 C467.85,203.22 464.97,201.53 463.7,199.9 C462.43,198.27 462.07,196.12 462.6,194.5 C463.13,192.88 464.73,191.65 466.9,190.2 C469.07,188.75 472.7,186.9 475.6,185.8 C478.5,184.7 482.3,184.68 484.3,183.6 C486.3,182.52 487.6,180.73 487.6,179.3 C487.6,177.87 485.75,176.45 484.3,175 C482.85,173.55 479.98,172.23 478.9,170.6 C477.82,168.97 477.62,166.82 477.8,165.2 C477.98,163.58 478.55,162.17 480,160.9 Z"/></clipPath>
<path d="M480,160.9 C481.45,159.63 484.15,157.97 486.5,157.6 C488.85,157.23 491.75,157.62 494.1,158.7 C496.45,159.78 498.98,162.12 500.6,164.1 C502.22,166.08 503.43,168.43 503.8,170.6 C504.17,172.77 503.15,175.1 502.8,177.1 C502.45,179.1 500.98,181.33 501.7,182.6 C502.42,183.87 504.75,183.8 507.1,184.7 C509.45,185.6 513.53,186.55 515.8,188 C518.07,189.45 520.07,191.6 520.7,193.4 C521.33,195.2 520.78,197.35 519.6,198.8 C518.42,200.25 515.87,201.18 513.6,202.1 C511.33,203.02 508.17,203.22 506,204.3 C503.83,205.38 502.58,206.8 500.6,208.6 C498.62,210.4 496.45,213.83 494.1,215.1 C491.75,216.37 488.68,216.73 486.5,216.2 C484.32,215.67 482.45,213.53 481,211.9 C479.55,210.27 479.6,207.67 477.8,206.4 C476,205.13 472.55,205.38 470.2,204.3 C467.85,203.22 464.97,201.53 463.7,199.9 C462.43,198.27 462.07,196.12 462.6,194.5 C463.13,192.88 464.73,191.65 466.9,190.2 C469.07,188.75 472.7,186.9 475.6,185.8 C478.5,184.7 482.3,184.68 484.3,183.6 C486.3,182.52 487.6,180.73 487.6,179.3 C487.6,177.87 485.75,176.45 484.3,175 C482.85,173.55 479.98,172.23 478.9,170.6 C477.82,168.97 477.62,166.82 477.8,165.2 C477.98,163.58 478.55,162.17 480,160.9 Z" fill="url(#mesh)" stroke="#9a9a9a" stroke-width="3.0" stroke-opacity="0.4" clip-path="url(#cp22)"/>
<path d="M480,160.9 C481.45,159.63 484.15,157.97 486.5,157.6 C488.85,157.23 491.75,157.62 494.1,158.7 C496.45,159.78 498.98,162.12 500.6,164.1 C502.22,166.08 503.43,168.43 503.8,170.6 C504.17,172.77 503.15,175.1 502.8,177.1 C502.45,179.1 500.98,181.33 501.7,182.6 C502.42,183.87 504.75,183.8 507.1,184.7 C509.45,185.6 513.53,186.55 515.8,188 C518.07,189.45 520.07,191.6 520.7,193.4 C521.33,195.2 520.78,197.35 519.6,198.8 C518.42,200.25 515.87,201.18 513.6,202.1 C511.33,203.02 508.17,203.22 506,204.3 C503.83,205.38 502.58,206.8 500.6,208.6 C498.62,210.4 496.45,213.83 494.1,215.1 C491.75,216.37 488.68,216.73 486.5,216.2 C484.32,215.67 482.45,213.53 481,211.9 C479.55,210.27 479.6,207.67 477.8,206.4 C476,205.13 472.55,205.38 470.2,204.3 C467.85,203.22 464.97,201.53 463.7,199.9 C462.43,198.27 462.07,196.12 462.6,194.5 C463.13,192.88 464.73,191.65 466.9,190.2 C469.07,188.75 472.7,186.9 475.6,185.8 C478.5,184.7 482.3,184.68 484.3,183.6 C486.3,182.52 487.6,180.73 487.6,179.3 C487.6,177.87 485.75,176.45 484.3,175 C482.85,173.55 479.98,172.23 478.9,170.6 C477.82,168.97 477.62,166.82 477.8,165.2 C477.98,163.58 478.55,162.17 480,160.9 Z" fill="none" stroke="#8a8a8a" stroke-width="0.7"/>
<polygon points="481.6,192.9 492.4,191.8 502.8,197.8 500.6,203.2 489.7,203.2 479.4,198.8" fill="none" stroke="#e08a2c" stroke-width="1.8" stroke-linejoin="round"/>
<line x1="479.4" y1="198.8" x2="474.25" y2="198.8" stroke="#e08a2c" stroke-width="1.8" />
<line x1="474.25" y1="198.8" x2="469.1" y2="198.8" stroke="#e03040" stroke-width="1.8" />
<line x1="502.8" y1="197.8" x2="507.65" y2="196.7" stroke="#e08a2c" stroke-width="1.8" />
<line x1="507.65" y1="196.7" x2="512.5" y2="195.6" stroke="#e03040" stroke-width="1.8" />
<line x1="489.7" y1="203.2" x2="489.15" y2="206.45" stroke="#e08a2c" stroke-width="1.8" />
<line x1="489.15" y1="206.45" x2="488.6" y2="209.7" stroke="#e03040" stroke-width="1.8" />
<polyline points="492.4,191.8 495.2,180.9 496.8,173.3 494.1,170.6" fill="none" stroke="#e08a2c" stroke-width="1.8" stroke-linejoin="round"/>
<line x1="494.1" y1="170.6" x2="490.8" y2="167.4" stroke="#3030e0" stroke-width="1.7" />
<line x1="490.2" y1="167" x2="486.5" y2="166.3" stroke="#e03040" stroke-width="1.4" />
<circle cx="544" cy="218.2" r="4.8" fill="url(#cu)"/>
<text x="138.4" y="308.3" font-size="15" fill="#231f20" text-anchor="start" >(S)</text>
<clipPath id="cp23"><path d="M147.5,235.3 C149.87,231.48 158.05,230.45 162.8,229.9 C167.55,229.35 173.25,229.63 176,232 C178.75,234.37 178.38,239.53 179.3,244.1 C180.22,248.67 180.23,255.35 181.5,259.4 C182.77,263.45 184.53,267.28 186.9,268.4 C189.27,269.52 192.78,267.22 195.7,266.1 C198.62,264.98 202.77,265 204.4,261.7 C206.03,258.4 204.58,249.78 205.5,246.3 C206.42,242.82 207.52,241.9 209.9,240.8 C212.28,239.7 216.7,238.78 219.8,239.7 C222.9,240.62 226.5,242.65 228.5,246.3 C230.5,249.95 229.6,258.12 231.8,261.6 C234,265.08 238.97,265.2 241.7,267.2 C244.43,269.2 247.83,270.88 248.2,273.6 C248.57,276.32 246.45,281.12 243.9,283.5 C241.35,285.88 235.83,285.9 232.9,287.9 C229.97,289.9 228.85,293.32 226.3,295.5 C223.75,297.68 220.52,300.45 217.6,301 C214.68,301.55 211.35,300.98 208.8,298.8 C206.25,296.62 204.85,290.63 202.3,287.9 C199.75,285.17 197.52,283.13 193.5,282.4 C189.48,281.67 182.95,284.05 178.2,283.5 C173.45,282.95 169.02,281.65 165,279.1 C160.98,276.55 156.83,272.58 154.1,268.2 C151.37,263.82 149.7,258.28 148.6,252.8 C147.5,247.32 145.13,239.12 147.5,235.3 Z"/></clipPath>
<path d="M147.5,235.3 C149.87,231.48 158.05,230.45 162.8,229.9 C167.55,229.35 173.25,229.63 176,232 C178.75,234.37 178.38,239.53 179.3,244.1 C180.22,248.67 180.23,255.35 181.5,259.4 C182.77,263.45 184.53,267.28 186.9,268.4 C189.27,269.52 192.78,267.22 195.7,266.1 C198.62,264.98 202.77,265 204.4,261.7 C206.03,258.4 204.58,249.78 205.5,246.3 C206.42,242.82 207.52,241.9 209.9,240.8 C212.28,239.7 216.7,238.78 219.8,239.7 C222.9,240.62 226.5,242.65 228.5,246.3 C230.5,249.95 229.6,258.12 231.8,261.6 C234,265.08 238.97,265.2 241.7,267.2 C244.43,269.2 247.83,270.88 248.2,273.6 C248.57,276.32 246.45,281.12 243.9,283.5 C241.35,285.88 235.83,285.9 232.9,287.9 C229.97,289.9 228.85,293.32 226.3,295.5 C223.75,297.68 220.52,300.45 217.6,301 C214.68,301.55 211.35,300.98 208.8,298.8 C206.25,296.62 204.85,290.63 202.3,287.9 C199.75,285.17 197.52,283.13 193.5,282.4 C189.48,281.67 182.95,284.05 178.2,283.5 C173.45,282.95 169.02,281.65 165,279.1 C160.98,276.55 156.83,272.58 154.1,268.2 C151.37,263.82 149.7,258.28 148.6,252.8 C147.5,247.32 145.13,239.12 147.5,235.3 Z" fill="url(#mesh)" stroke="#9a9a9a" stroke-width="3.0" stroke-opacity="0.4" clip-path="url(#cp23)"/>
<path d="M147.5,235.3 C149.87,231.48 158.05,230.45 162.8,229.9 C167.55,229.35 173.25,229.63 176,232 C178.75,234.37 178.38,239.53 179.3,244.1 C180.22,248.67 180.23,255.35 181.5,259.4 C182.77,263.45 184.53,267.28 186.9,268.4 C189.27,269.52 192.78,267.22 195.7,266.1 C198.62,264.98 202.77,265 204.4,261.7 C206.03,258.4 204.58,249.78 205.5,246.3 C206.42,242.82 207.52,241.9 209.9,240.8 C212.28,239.7 216.7,238.78 219.8,239.7 C222.9,240.62 226.5,242.65 228.5,246.3 C230.5,249.95 229.6,258.12 231.8,261.6 C234,265.08 238.97,265.2 241.7,267.2 C244.43,269.2 247.83,270.88 248.2,273.6 C248.57,276.32 246.45,281.12 243.9,283.5 C241.35,285.88 235.83,285.9 232.9,287.9 C229.97,289.9 228.85,293.32 226.3,295.5 C223.75,297.68 220.52,300.45 217.6,301 C214.68,301.55 211.35,300.98 208.8,298.8 C206.25,296.62 204.85,290.63 202.3,287.9 C199.75,285.17 197.52,283.13 193.5,282.4 C189.48,281.67 182.95,284.05 178.2,283.5 C173.45,282.95 169.02,281.65 165,279.1 C160.98,276.55 156.83,272.58 154.1,268.2 C151.37,263.82 149.7,258.28 148.6,252.8 C147.5,247.32 145.13,239.12 147.5,235.3 Z" fill="none" stroke="#8a8a8a" stroke-width="0.7"/>
<polygon points="154.1,244.1 160.7,237.5 170.5,238.6 174.9,252.8 167.2,260.5 157.4,258.3" fill="none" stroke="#6a6ae0" stroke-width="1.5" stroke-linejoin="round"/>
<polyline points="168.3,260.5 172.7,273.6 182.6,273.6 190.4,277.6" fill="none" stroke="#6a6ae0" stroke-width="1.5" stroke-linejoin="round"/>
<line x1="190.4" y1="277.6" x2="196.4" y2="278.6" stroke="#3030e0" stroke-width="1.5" />
<line x1="196.4" y1="278.6" x2="205.5" y2="279.1" stroke="#6a6ae0" stroke-width="1.5" />
<polygon points="205.5,279.1 209.9,273.6 222,272.5 226.3,278.7 223.1,284.6 212.1,285.7" fill="none" stroke="#6a6ae0" stroke-width="1.5" stroke-linejoin="round"/>
<line x1="226.3" y1="278.7" x2="231.5" y2="278.7" stroke="#6a6ae0" stroke-width="1.5" />
<line x1="231.5" y1="278.7" x2="237.3" y2="278.7" stroke="#e03040" stroke-width="1.5" />
<line x1="215.4" y1="285.4" x2="215.4" y2="288.4" stroke="#6a6ae0" stroke-width="1.5" />
<line x1="215.4" y1="288.4" x2="215.4" y2="291.2" stroke="#e03040" stroke-width="1.5" />
<polyline points="218.7,272.5 222,255 219.5,250.5" fill="none" stroke="#6a6ae0" stroke-width="1.5" stroke-linejoin="round"/>
<line x1="219.5" y1="250.5" x2="216.6" y2="247.6" stroke="#3030e0" stroke-width="1.5" />
<line x1="219.5" y1="250.5" x2="214.5" y2="248.4" stroke="#6a6ae0" stroke-width="1.3" />
<line x1="214.5" y1="248.4" x2="210.8" y2="247.4" stroke="#e03040" stroke-width="1.3" />
<clipPath id="cp24"><path d="M253.2,285.7 a8.2,9.8 0 1,0 16.4,0 a8.2,9.8 0 1,0 -16.4,0 Z"/></clipPath>
<path d="M253.2,285.7 a8.2,9.8 0 1,0 16.4,0 a8.2,9.8 0 1,0 -16.4,0 Z" fill="url(#mesh)" stroke="#9a9a9a" stroke-width="3.0" stroke-opacity="0.4" clip-path="url(#cp24)"/>
<path d="M253.2,285.7 a8.2,9.8 0 1,0 16.4,0 a8.2,9.8 0 1,0 -16.4,0 Z" fill="none" stroke="#8a8a8a" stroke-width="0.7"/>
<circle cx="261.4" cy="285.7" r="1.7" fill="url(#cyan)"/>
<circle cx="268" cy="305" r="4.8" fill="url(#cu)"/>
<text x="198.8" y="323.8" font-size="14.3" fill="#231f20" text-anchor="start" >22 ms</text>
<clipPath id="cp25"><path d="M284.7,239.6 C286.37,237.67 289.68,235.67 293,234.7 C296.32,233.73 301.28,232.98 304.6,233.8 C307.92,234.62 310.68,236.68 312.9,239.6 C315.12,242.52 316.92,247.42 317.9,251.3 C318.88,255.18 318.38,259.72 318.8,262.9 C319.22,266.08 318.88,269 320.4,270.4 C321.92,271.8 325.27,271.57 327.9,271.3 C330.53,271.03 333.83,269.78 336.2,268.8 C338.57,267.82 341.27,267.77 342.1,265.4 C342.93,263.03 341.35,257.78 341.2,254.6 C341.05,251.42 340.37,248.38 341.2,246.3 C342.03,244.22 343.7,242.93 346.2,242.1 C348.7,241.27 353.15,240.6 356.2,241.3 C359.25,242 362.28,243.8 364.5,246.3 C366.72,248.8 368.52,252.97 369.5,256.3 C370.48,259.63 369,264.08 370.4,266.3 C371.8,268.52 375.27,268.5 377.9,269.6 C380.53,270.7 384.68,270.95 386.2,272.9 C387.72,274.85 387.57,278.8 387,281.3 C386.43,283.8 385.15,286.25 382.8,287.9 C380.45,289.55 375.67,289.53 372.9,291.2 C370.13,292.87 368.7,295.67 366.2,297.9 C363.7,300.13 360.67,303.63 357.9,304.6 C355.13,305.57 352.1,304.82 349.6,303.7 C347.1,302.58 344.85,299.98 342.9,297.9 C340.95,295.82 340.12,292.87 337.9,291.2 C335.68,289.53 332.65,288.73 329.6,287.9 C326.55,287.07 323.48,286.33 319.6,286.2 C315.72,286.07 309.63,287.37 306.3,287.1 C302.97,286.83 301.27,286.13 299.6,284.6 C297.93,283.07 297.68,280.68 296.3,277.9 C294.92,275.12 293.1,271.5 291.3,267.9 C289.5,264.3 286.88,259.9 285.5,256.3 C284.12,252.7 283.13,249.08 283,246.3 C282.87,243.52 283.03,241.53 284.7,239.6 Z"/></clipPath>
<path d="M284.7,239.6 C286.37,237.67 289.68,235.67 293,234.7 C296.32,233.73 301.28,232.98 304.6,233.8 C307.92,234.62 310.68,236.68 312.9,239.6 C315.12,242.52 316.92,247.42 317.9,251.3 C318.88,255.18 318.38,259.72 318.8,262.9 C319.22,266.08 318.88,269 320.4,270.4 C321.92,271.8 325.27,271.57 327.9,271.3 C330.53,271.03 333.83,269.78 336.2,268.8 C338.57,267.82 341.27,267.77 342.1,265.4 C342.93,263.03 341.35,257.78 341.2,254.6 C341.05,251.42 340.37,248.38 341.2,246.3 C342.03,244.22 343.7,242.93 346.2,242.1 C348.7,241.27 353.15,240.6 356.2,241.3 C359.25,242 362.28,243.8 364.5,246.3 C366.72,248.8 368.52,252.97 369.5,256.3 C370.48,259.63 369,264.08 370.4,266.3 C371.8,268.52 375.27,268.5 377.9,269.6 C380.53,270.7 384.68,270.95 386.2,272.9 C387.72,274.85 387.57,278.8 387,281.3 C386.43,283.8 385.15,286.25 382.8,287.9 C380.45,289.55 375.67,289.53 372.9,291.2 C370.13,292.87 368.7,295.67 366.2,297.9 C363.7,300.13 360.67,303.63 357.9,304.6 C355.13,305.57 352.1,304.82 349.6,303.7 C347.1,302.58 344.85,299.98 342.9,297.9 C340.95,295.82 340.12,292.87 337.9,291.2 C335.68,289.53 332.65,288.73 329.6,287.9 C326.55,287.07 323.48,286.33 319.6,286.2 C315.72,286.07 309.63,287.37 306.3,287.1 C302.97,286.83 301.27,286.13 299.6,284.6 C297.93,283.07 297.68,280.68 296.3,277.9 C294.92,275.12 293.1,271.5 291.3,267.9 C289.5,264.3 286.88,259.9 285.5,256.3 C284.12,252.7 283.13,249.08 283,246.3 C282.87,243.52 283.03,241.53 284.7,239.6 Z" fill="url(#mesh)" stroke="#9a9a9a" stroke-width="3.0" stroke-opacity="0.4" clip-path="url(#cp25)"/>
<path d="M284.7,239.6 C286.37,237.67 289.68,235.67 293,234.7 C296.32,233.73 301.28,232.98 304.6,233.8 C307.92,234.62 310.68,236.68 312.9,239.6 C315.12,242.52 316.92,247.42 317.9,251.3 C318.88,255.18 318.38,259.72 318.8,262.9 C319.22,266.08 318.88,269 320.4,270.4 C321.92,271.8 325.27,271.57 327.9,271.3 C330.53,271.03 333.83,269.78 336.2,268.8 C338.57,267.82 341.27,267.77 342.1,265.4 C342.93,263.03 341.35,257.78 341.2,254.6 C341.05,251.42 340.37,248.38 341.2,246.3 C342.03,244.22 343.7,242.93 346.2,242.1 C348.7,241.27 353.15,240.6 356.2,241.3 C359.25,242 362.28,243.8 364.5,246.3 C366.72,248.8 368.52,252.97 369.5,256.3 C370.48,259.63 369,264.08 370.4,266.3 C371.8,268.52 375.27,268.5 377.9,269.6 C380.53,270.7 384.68,270.95 386.2,272.9 C387.72,274.85 387.57,278.8 387,281.3 C386.43,283.8 385.15,286.25 382.8,287.9 C380.45,289.55 375.67,289.53 372.9,291.2 C370.13,292.87 368.7,295.67 366.2,297.9 C363.7,300.13 360.67,303.63 357.9,304.6 C355.13,305.57 352.1,304.82 349.6,303.7 C347.1,302.58 344.85,299.98 342.9,297.9 C340.95,295.82 340.12,292.87 337.9,291.2 C335.68,289.53 332.65,288.73 329.6,287.9 C326.55,287.07 323.48,286.33 319.6,286.2 C315.72,286.07 309.63,287.37 306.3,287.1 C302.97,286.83 301.27,286.13 299.6,284.6 C297.93,283.07 297.68,280.68 296.3,277.9 C294.92,275.12 293.1,271.5 291.3,267.9 C289.5,264.3 286.88,259.9 285.5,256.3 C284.12,252.7 283.13,249.08 283,246.3 C282.87,243.52 283.03,241.53 284.7,239.6 Z" fill="none" stroke="#8a8a8a" stroke-width="0.7"/>
<polygon points="295.5,242.1 304.6,246.3 310.5,258.8 303.8,266.3 294.6,261.3 289.6,249.6" fill="none" stroke="#6a6ae0" stroke-width="1.8" stroke-linejoin="round"/>
<polyline points="303.8,266.3 308,277.9 321.3,277.9 326.5,280" fill="none" stroke="#6a6ae0" stroke-width="1.8" stroke-linejoin="round"/>
<line x1="326.5" y1="280" x2="331.3" y2="282.1" stroke="#3030e0" stroke-width="1.8" />
<line x1="331.3" y1="282.1" x2="343.7" y2="282.5" stroke="#6a6ae0" stroke-width="1.8" />
<polygon points="343.7,282.5 345.4,277.1 356.2,276.3 365.4,281.3 364.5,287.1 353.7,287.9" fill="none" stroke="#6a6ae0" stroke-width="1.8" stroke-linejoin="round"/>
<line x1="356.2" y1="276.3" x2="366.6" y2="278.6" stroke="#6a6ae0" stroke-width="1.8" />
<line x1="366.6" y1="278.6" x2="377" y2="280.9" stroke="#e03040" stroke-width="1.8" />
<line x1="353.7" y1="287.9" x2="353.7" y2="291.25" stroke="#6a6ae0" stroke-width="1.8" />
<line x1="353.7" y1="291.25" x2="353.7" y2="294.6" stroke="#e03040" stroke-width="1.8" />
<polyline points="356.2,276.3 359.5,258 356.2,253" fill="none" stroke="#6a6ae0" stroke-width="1.8" stroke-linejoin="round"/>
<line x1="356.2" y1="253" x2="353.6" y2="249.8" stroke="#3030e0" stroke-width="1.7" />
<line x1="352.6" y1="250.8" x2="348.7" y2="249.6" stroke="#e03040" stroke-width="1.4" />
<clipPath id="cp26"><path d="M392.7,289 a9.8,10 0 1,0 19.6,0 a9.8,10 0 1,0 -19.6,0 Z"/></clipPath>
<path d="M392.7,289 a9.8,10 0 1,0 19.6,0 a9.8,10 0 1,0 -19.6,0 Z" fill="url(#mesh)" stroke="#9a9a9a" stroke-width="3.0" stroke-opacity="0.4" clip-path="url(#cp26)"/>
<path d="M392.7,289 a9.8,10 0 1,0 19.6,0 a9.8,10 0 1,0 -19.6,0 Z" fill="none" stroke="#8a8a8a" stroke-width="0.7"/>
<circle cx="402.5" cy="289" r="1.7" fill="url(#cyan)"/>
<circle cx="409" cy="305.2" r="4.8" fill="url(#cu)"/>
<text x="334.8" y="323.8" font-size="14.3" fill="#231f20" text-anchor="start" >25 ms</text>
<clipPath id="cp27"><path d="M425.8,243 C427.32,241.05 430.38,237.83 433.3,236.3 C436.22,234.77 440.25,233.52 443.3,233.8 C446.35,234.08 449.52,235.63 451.6,238 C453.68,240.37 454.83,244.12 455.8,248 C456.77,251.88 456.72,257.15 457.4,261.3 C458.08,265.45 458.08,271.23 459.9,272.9 C461.72,274.57 465.52,271.98 468.3,271.3 C471.08,270.62 474.25,269.63 476.6,268.8 C478.95,267.97 481.85,268.38 482.4,266.3 C482.95,264.22 480.18,259.5 479.9,256.3 C479.62,253.1 479.58,249.18 480.7,247.1 C481.82,245.02 483.95,244.22 486.6,243.8 C489.25,243.38 493.55,243.35 496.6,244.6 C499.65,245.85 503.1,248.52 504.9,251.3 C506.7,254.08 506.85,258.25 507.4,261.3 C507.95,264.35 506.68,267.67 508.2,269.6 C509.72,271.53 514.28,271.23 516.5,272.9 C518.72,274.57 520.95,277.38 521.5,279.6 C522.05,281.82 521.18,284.4 519.8,286.2 C518.42,288 515.42,289 513.2,290.4 C510.98,291.8 509,292.8 506.5,294.6 C504,296.4 500.97,299.95 498.2,301.2 C495.43,302.45 492.67,302.65 489.9,302.1 C487.13,301.55 483.82,299.98 481.6,297.9 C479.38,295.82 478.82,291.55 476.6,289.6 C474.38,287.65 471.35,286.62 468.3,286.2 C465.25,285.78 461.63,286.82 458.3,287.1 C454.97,287.38 451.35,288.32 448.3,287.9 C445.25,287.48 441.95,286.27 440,284.6 C438.05,282.93 437.85,280.95 436.6,277.9 C435.35,274.85 434.15,269.9 432.5,266.3 C430.85,262.7 428.08,259.35 426.7,256.3 C425.32,253.25 424.35,250.22 424.2,248 C424.05,245.78 424.28,244.95 425.8,243 Z"/></clipPath>
<path d="M425.8,243 C427.32,241.05 430.38,237.83 433.3,236.3 C436.22,234.77 440.25,233.52 443.3,233.8 C446.35,234.08 449.52,235.63 451.6,238 C453.68,240.37 454.83,244.12 455.8,248 C456.77,251.88 456.72,257.15 457.4,261.3 C458.08,265.45 458.08,271.23 459.9,272.9 C461.72,274.57 465.52,271.98 468.3,271.3 C471.08,270.62 474.25,269.63 476.6,268.8 C478.95,267.97 481.85,268.38 482.4,266.3 C482.95,264.22 480.18,259.5 479.9,256.3 C479.62,253.1 479.58,249.18 480.7,247.1 C481.82,245.02 483.95,244.22 486.6,243.8 C489.25,243.38 493.55,243.35 496.6,244.6 C499.65,245.85 503.1,248.52 504.9,251.3 C506.7,254.08 506.85,258.25 507.4,261.3 C507.95,264.35 506.68,267.67 508.2,269.6 C509.72,271.53 514.28,271.23 516.5,272.9 C518.72,274.57 520.95,277.38 521.5,279.6 C522.05,281.82 521.18,284.4 519.8,286.2 C518.42,288 515.42,289 513.2,290.4 C510.98,291.8 509,292.8 506.5,294.6 C504,296.4 500.97,299.95 498.2,301.2 C495.43,302.45 492.67,302.65 489.9,302.1 C487.13,301.55 483.82,299.98 481.6,297.9 C479.38,295.82 478.82,291.55 476.6,289.6 C474.38,287.65 471.35,286.62 468.3,286.2 C465.25,285.78 461.63,286.82 458.3,287.1 C454.97,287.38 451.35,288.32 448.3,287.9 C445.25,287.48 441.95,286.27 440,284.6 C438.05,282.93 437.85,280.95 436.6,277.9 C435.35,274.85 434.15,269.9 432.5,266.3 C430.85,262.7 428.08,259.35 426.7,256.3 C425.32,253.25 424.35,250.22 424.2,248 C424.05,245.78 424.28,244.95 425.8,243 Z" fill="url(#mesh)" stroke="#9a9a9a" stroke-width="3.0" stroke-opacity="0.4" clip-path="url(#cp27)"/>
<path d="M425.8,243 C427.32,241.05 430.38,237.83 433.3,236.3 C436.22,234.77 440.25,233.52 443.3,233.8 C446.35,234.08 449.52,235.63 451.6,238 C453.68,240.37 454.83,244.12 455.8,248 C456.77,251.88 456.72,257.15 457.4,261.3 C458.08,265.45 458.08,271.23 459.9,272.9 C461.72,274.57 465.52,271.98 468.3,271.3 C471.08,270.62 474.25,269.63 476.6,268.8 C478.95,267.97 481.85,268.38 482.4,266.3 C482.95,264.22 480.18,259.5 479.9,256.3 C479.62,253.1 479.58,249.18 480.7,247.1 C481.82,245.02 483.95,244.22 486.6,243.8 C489.25,243.38 493.55,243.35 496.6,244.6 C499.65,245.85 503.1,248.52 504.9,251.3 C506.7,254.08 506.85,258.25 507.4,261.3 C507.95,264.35 506.68,267.67 508.2,269.6 C509.72,271.53 514.28,271.23 516.5,272.9 C518.72,274.57 520.95,277.38 521.5,279.6 C522.05,281.82 521.18,284.4 519.8,286.2 C518.42,288 515.42,289 513.2,290.4 C510.98,291.8 509,292.8 506.5,294.6 C504,296.4 500.97,299.95 498.2,301.2 C495.43,302.45 492.67,302.65 489.9,302.1 C487.13,301.55 483.82,299.98 481.6,297.9 C479.38,295.82 478.82,291.55 476.6,289.6 C474.38,287.65 471.35,286.62 468.3,286.2 C465.25,285.78 461.63,286.82 458.3,287.1 C454.97,287.38 451.35,288.32 448.3,287.9 C445.25,287.48 441.95,286.27 440,284.6 C438.05,282.93 437.85,280.95 436.6,277.9 C435.35,274.85 434.15,269.9 432.5,266.3 C430.85,262.7 428.08,259.35 426.7,256.3 C425.32,253.25 424.35,250.22 424.2,248 C424.05,245.78 424.28,244.95 425.8,243 Z" fill="none" stroke="#8a8a8a" stroke-width="0.7"/>
<polygon points="435.8,240.5 445,243.8 450,255.5 443.3,263.8 434.1,259.6 430.8,248" fill="none" stroke="#6a6ae0" stroke-width="1.8" stroke-linejoin="round"/>
<polyline points="443.3,263.8 447.5,277.1 459.9,277.1 465,279.2" fill="none" stroke="#6a6ae0" stroke-width="1.8" stroke-linejoin="round"/>
<line x1="465" y1="279.2" x2="469.9" y2="281.3" stroke="#3030e0" stroke-width="1.8" />
<line x1="469.9" y1="281.3" x2="481.6" y2="281.8" stroke="#6a6ae0" stroke-width="1.8" />
<polygon points="481.6,281.8 482.4,277.9 493.2,276.3 503.2,281.3 502.4,287.1 491.6,287.9" fill="none" stroke="#6a6ae0" stroke-width="1.8" stroke-linejoin="round"/>
<line x1="493.2" y1="276.3" x2="503.6" y2="278.95" stroke="#6a6ae0" stroke-width="1.8" />
<line x1="503.6" y1="278.95" x2="514" y2="281.6" stroke="#e03040" stroke-width="1.8" />
<line x1="491.6" y1="287.9" x2="490.75" y2="290.8" stroke="#6a6ae0" stroke-width="1.8" />
<line x1="490.75" y1="290.8" x2="489.9" y2="293.7" stroke="#e03040" stroke-width="1.8" />
<polyline points="493.2,276.3 497.4,258 493.2,253.8" fill="none" stroke="#6a6ae0" stroke-width="1.8" stroke-linejoin="round"/>
<line x1="493.2" y1="253.8" x2="490.6" y2="250.6" stroke="#3030e0" stroke-width="1.7" />
<line x1="489.8" y1="251.8" x2="486.6" y2="250.8" stroke="#e03040" stroke-width="1.4" />
<clipPath id="cp28"><path d="M526.9,289.6 a9,9.4 0 1,0 18,0 a9,9.4 0 1,0 -18,0 Z"/></clipPath>
<path d="M526.9,289.6 a9,9.4 0 1,0 18,0 a9,9.4 0 1,0 -18,0 Z" fill="url(#mesh)" stroke="#9a9a9a" stroke-width="3.0" stroke-opacity="0.4" clip-path="url(#cp28)"/>
<path d="M526.9,289.6 a9,9.4 0 1,0 18,0 a9,9.4 0 1,0 -18,0 Z" fill="none" stroke="#8a8a8a" stroke-width="0.7"/>
<circle cx="535.9" cy="289.6" r="1.7" fill="url(#cyan)"/>
<circle cx="543.1" cy="307.6" r="4.8" fill="url(#cu)"/>
<text x="472.6" y="323.6" font-size="14.3" fill="#231f20" text-anchor="start" >50 ms</text>
<clipPath id="cp29"><path d="M558,195.9 C558.88,193.07 561,191.08 563.3,189.5 C565.6,187.92 568.98,186.4 571.8,186.4 C574.62,186.4 577.57,187.38 580.2,189.5 C582.83,191.62 585.83,195.75 587.6,199.1 C589.37,202.45 590.62,206.25 590.8,209.6 C590.98,212.95 589.58,216.55 588.7,219.2 C587.82,221.85 585.15,223.75 585.5,225.5 C585.85,227.25 589.57,228.12 590.8,229.7 C592.03,231.28 593.08,233.05 592.9,235 C592.72,236.95 591.47,239.8 589.7,241.4 C587.93,243 584.77,244.25 582.3,244.6 C579.83,244.95 576.83,244.73 574.9,243.5 C572.97,242.27 571.75,239.85 570.7,237.2 C569.65,234.55 570.18,230.97 568.6,227.6 C567.02,224.23 562.97,220.52 561.2,217 C559.43,213.48 558.53,210.02 558,206.5 C557.47,202.98 557.12,198.73 558,195.9 Z"/></clipPath>
<path d="M558,195.9 C558.88,193.07 561,191.08 563.3,189.5 C565.6,187.92 568.98,186.4 571.8,186.4 C574.62,186.4 577.57,187.38 580.2,189.5 C582.83,191.62 585.83,195.75 587.6,199.1 C589.37,202.45 590.62,206.25 590.8,209.6 C590.98,212.95 589.58,216.55 588.7,219.2 C587.82,221.85 585.15,223.75 585.5,225.5 C585.85,227.25 589.57,228.12 590.8,229.7 C592.03,231.28 593.08,233.05 592.9,235 C592.72,236.95 591.47,239.8 589.7,241.4 C587.93,243 584.77,244.25 582.3,244.6 C579.83,244.95 576.83,244.73 574.9,243.5 C572.97,242.27 571.75,239.85 570.7,237.2 C569.65,234.55 570.18,230.97 568.6,227.6 C567.02,224.23 562.97,220.52 561.2,217 C559.43,213.48 558.53,210.02 558,206.5 C557.47,202.98 557.12,198.73 558,195.9 Z" fill="url(#mesh)" stroke="#9a9a9a" stroke-width="3.0" stroke-opacity="0.4" clip-path="url(#cp29)"/>
<path d="M558,195.9 C558.88,193.07 561,191.08 563.3,189.5 C565.6,187.92 568.98,186.4 571.8,186.4 C574.62,186.4 577.57,187.38 580.2,189.5 C582.83,191.62 585.83,195.75 587.6,199.1 C589.37,202.45 590.62,206.25 590.8,209.6 C590.98,212.95 589.58,216.55 588.7,219.2 C587.82,221.85 585.15,223.75 585.5,225.5 C585.85,227.25 589.57,228.12 590.8,229.7 C592.03,231.28 593.08,233.05 592.9,235 C592.72,236.95 591.47,239.8 589.7,241.4 C587.93,243 584.77,244.25 582.3,244.6 C579.83,244.95 576.83,244.73 574.9,243.5 C572.97,242.27 571.75,239.85 570.7,237.2 C569.65,234.55 570.18,230.97 568.6,227.6 C567.02,224.23 562.97,220.52 561.2,217 C559.43,213.48 558.53,210.02 558,206.5 C557.47,202.98 557.12,198.73 558,195.9 Z" fill="none" stroke="#8a8a8a" stroke-width="0.7"/>
<line x1="582.3" y1="236.7" x2="588.7" y2="237.2" stroke="#3030e0" stroke-width="1.5" />
<circle cx="576" cy="234.6" r="0.9" fill="#222"/>
<clipPath id="cp30"><path d="M662.6,238.2 a7.9,7.9 0 1,0 15.8,0 a7.9,7.9 0 1,0 -15.8,0 Z"/></clipPath>
<path d="M662.6,238.2 a7.9,7.9 0 1,0 15.8,0 a7.9,7.9 0 1,0 -15.8,0 Z" fill="url(#mesh)" stroke="#9a9a9a" stroke-width="3.0" stroke-opacity="0.4" clip-path="url(#cp30)"/>
<path d="M662.6,238.2 a7.9,7.9 0 1,0 15.8,0 a7.9,7.9 0 1,0 -15.8,0 Z" fill="none" stroke="#8a8a8a" stroke-width="0.7"/>
<circle cx="670.5" cy="238.2" r="1.7" fill="url(#cyan)"/>
<clipPath id="cp31"><path d="M617.3,192.9 C619.17,191.92 620.4,191.98 622.6,192.2 C624.8,192.42 628.1,192.98 630.5,194.2 C632.9,195.42 635.37,197.32 637,199.5 C638.63,201.68 639.63,204.47 640.3,207.3 C640.97,210.13 639.78,214.42 641,216.5 C642.22,218.58 644.97,219.35 647.6,219.8 C650.23,220.25 654.18,219.2 656.8,219.2 C659.42,219.2 661.67,219.15 663.3,219.8 C664.93,220.45 666.38,221.9 666.6,223.1 C666.82,224.3 665.37,225.8 664.6,227 C663.83,228.2 663.08,229.2 662,230.3 C660.92,231.4 660.07,232.72 658.1,233.6 C656.13,234.48 652.62,234.93 650.2,235.6 C647.78,236.27 645.57,236.62 643.6,237.6 C641.63,238.58 640.37,239.97 638.4,241.5 C636.43,243.03 634,245.38 631.8,246.8 C629.6,248.22 627.38,249.78 625.2,250 C623.02,250.22 620.45,249.3 618.7,248.1 C616.95,246.9 616.9,244.33 614.7,242.8 C612.5,241.27 608.02,240.22 605.5,238.9 C602.98,237.58 600.7,236.65 599.6,234.9 C598.5,233.15 598.35,230.15 598.9,228.4 C599.45,226.65 600.7,225.4 602.9,224.4 C605.1,223.4 609.37,223.17 612.1,222.4 C614.83,221.63 617.88,221 619.3,219.8 C620.72,218.6 621.15,216.73 620.6,215.2 C620.05,213.67 617.53,212.35 616,210.6 C614.47,208.85 612.17,206.78 611.4,204.7 C610.63,202.62 610.42,200.07 611.4,198.1 C612.38,196.13 615.43,193.88 617.3,192.9 Z"/></clipPath>
<path d="M617.3,192.9 C619.17,191.92 620.4,191.98 622.6,192.2 C624.8,192.42 628.1,192.98 630.5,194.2 C632.9,195.42 635.37,197.32 637,199.5 C638.63,201.68 639.63,204.47 640.3,207.3 C640.97,210.13 639.78,214.42 641,216.5 C642.22,218.58 644.97,219.35 647.6,219.8 C650.23,220.25 654.18,219.2 656.8,219.2 C659.42,219.2 661.67,219.15 663.3,219.8 C664.93,220.45 666.38,221.9 666.6,223.1 C666.82,224.3 665.37,225.8 664.6,227 C663.83,228.2 663.08,229.2 662,230.3 C660.92,231.4 660.07,232.72 658.1,233.6 C656.13,234.48 652.62,234.93 650.2,235.6 C647.78,236.27 645.57,236.62 643.6,237.6 C641.63,238.58 640.37,239.97 638.4,241.5 C636.43,243.03 634,245.38 631.8,246.8 C629.6,248.22 627.38,249.78 625.2,250 C623.02,250.22 620.45,249.3 618.7,248.1 C616.95,246.9 616.9,244.33 614.7,242.8 C612.5,241.27 608.02,240.22 605.5,238.9 C602.98,237.58 600.7,236.65 599.6,234.9 C598.5,233.15 598.35,230.15 598.9,228.4 C599.45,226.65 600.7,225.4 602.9,224.4 C605.1,223.4 609.37,223.17 612.1,222.4 C614.83,221.63 617.88,221 619.3,219.8 C620.72,218.6 621.15,216.73 620.6,215.2 C620.05,213.67 617.53,212.35 616,210.6 C614.47,208.85 612.17,206.78 611.4,204.7 C610.63,202.62 610.42,200.07 611.4,198.1 C612.38,196.13 615.43,193.88 617.3,192.9 Z" fill="url(#mesh)" stroke="#9a9a9a" stroke-width="3.0" stroke-opacity="0.4" clip-path="url(#cp31)"/>
<path d="M617.3,192.9 C619.17,191.92 620.4,191.98 622.6,192.2 C624.8,192.42 628.1,192.98 630.5,194.2 C632.9,195.42 635.37,197.32 637,199.5 C638.63,201.68 639.63,204.47 640.3,207.3 C640.97,210.13 639.78,214.42 641,216.5 C642.22,218.58 644.97,219.35 647.6,219.8 C650.23,220.25 654.18,219.2 656.8,219.2 C659.42,219.2 661.67,219.15 663.3,219.8 C664.93,220.45 666.38,221.9 666.6,223.1 C666.82,224.3 665.37,225.8 664.6,227 C663.83,228.2 663.08,229.2 662,230.3 C660.92,231.4 660.07,232.72 658.1,233.6 C656.13,234.48 652.62,234.93 650.2,235.6 C647.78,236.27 645.57,236.62 643.6,237.6 C641.63,238.58 640.37,239.97 638.4,241.5 C636.43,243.03 634,245.38 631.8,246.8 C629.6,248.22 627.38,249.78 625.2,250 C623.02,250.22 620.45,249.3 618.7,248.1 C616.95,246.9 616.9,244.33 614.7,242.8 C612.5,241.27 608.02,240.22 605.5,238.9 C602.98,237.58 600.7,236.65 599.6,234.9 C598.5,233.15 598.35,230.15 598.9,228.4 C599.45,226.65 600.7,225.4 602.9,224.4 C605.1,223.4 609.37,223.17 612.1,222.4 C614.83,221.63 617.88,221 619.3,219.8 C620.72,218.6 621.15,216.73 620.6,215.2 C620.05,213.67 617.53,212.35 616,210.6 C614.47,208.85 612.17,206.78 611.4,204.7 C610.63,202.62 610.42,200.07 611.4,198.1 C612.38,196.13 615.43,193.88 617.3,192.9 Z" fill="none" stroke="#8a8a8a" stroke-width="0.7"/>
<polygon points="638.4,231 641,223.1 651.5,219.8 660.7,223.1 659.4,231.6 647.6,234.3" fill="none" stroke="#40e020" stroke-width="1.7" stroke-linejoin="round"/>
<polyline points="641,223.1 633.1,217.8 631.1,205.4 628.5,203.2" fill="none" stroke="#40e020" stroke-width="1.7" stroke-linejoin="round"/>
<line x1="660.7" y1="223.1" x2="667.25" y2="221.8" stroke="#40e020" stroke-width="1.6" />
<line x1="667.25" y1="221.8" x2="673.8" y2="220.5" stroke="#3030e0" stroke-width="1.6" />
<line x1="659.4" y1="231.6" x2="662.7" y2="233.6" stroke="#40e020" stroke-width="1.6" />
<line x1="662.7" y1="233.6" x2="666" y2="235.6" stroke="#e03040" stroke-width="1.6" />
<polygon points="614.4,231.2 622.6,226.8 632,228.6 635.7,237.6 627.2,238.2 617,237" fill="none" stroke="#d030d0" stroke-width="1.7" stroke-linejoin="round"/>
<polyline points="626.5,227.5 629.8,208.7 628.5,204.7" fill="none" stroke="#d030d0" stroke-width="1.7" stroke-linejoin="round"/>
<line x1="614.4" y1="231.2" x2="608.65" y2="231.4" stroke="#d030d0" stroke-width="1.6" />
<line x1="608.65" y1="231.4" x2="602.9" y2="231.6" stroke="#3030e0" stroke-width="1.6" />
<line x1="624.8" y1="238.5" x2="624.7" y2="241.3" stroke="#d030d0" stroke-width="1.6" />
<line x1="624.7" y1="241.3" x2="624.6" y2="244.1" stroke="#e03040" stroke-width="1.6" />
<line x1="634" y1="232" x2="640.1" y2="232.15" stroke="#d030d0" stroke-width="1.6" />
<line x1="640.1" y1="232.15" x2="646.2" y2="232.3" stroke="#e03040" stroke-width="1.6" />
<line x1="618.7" y1="201.4" x2="622.5" y2="202.6" stroke="#e03040" stroke-width="1.4" />
<line x1="625.2" y1="200.8" x2="628.5" y2="204.7" stroke="#3030e0" stroke-width="1.6" />
<circle cx="670.5" cy="238.2" r="1.7" fill="url(#cyan)"/>
<circle cx="679.3" cy="255.4" r="5" fill="url(#cu)"/>
<text x="605.6" y="276.9" font-size="14.3" fill="#231f20" text-anchor="start" >100 ms</text>
<clipPath id="cp32"><path d="M11.6,357.8 C12.95,355.57 15.07,354.57 17.4,353.7 C19.73,352.83 22.88,352.3 25.6,352.6 C28.32,352.9 31.18,353.87 33.7,355.5 C36.22,357.13 38.95,359.88 40.7,362.4 C42.45,364.92 43.72,367.68 44.2,370.6 C44.68,373.52 44.18,377.18 43.6,379.9 C43.02,382.62 41.28,384.77 40.7,386.9 C40.12,389.03 39.33,391.35 40.1,392.7 C40.87,394.05 44.13,393.83 45.3,395 C46.47,396.17 47.1,397.95 47.1,399.7 C47.1,401.45 46.57,403.87 45.3,405.5 C44.03,407.13 41.62,408.73 39.5,409.5 C37.38,410.27 34.92,410.28 32.6,410.1 C30.28,409.92 27.35,409.57 25.6,408.4 C23.85,407.23 23.07,405.13 22.1,403.1 C21.13,401.07 21.15,398.9 19.8,396.2 C18.45,393.5 15.65,390 14,386.9 C12.35,383.8 10.68,380.9 9.9,377.6 C9.12,374.3 9.02,370.4 9.3,367.1 C9.58,363.8 10.25,360.03 11.6,357.8 Z"/></clipPath>
<path d="M11.6,357.8 C12.95,355.57 15.07,354.57 17.4,353.7 C19.73,352.83 22.88,352.3 25.6,352.6 C28.32,352.9 31.18,353.87 33.7,355.5 C36.22,357.13 38.95,359.88 40.7,362.4 C42.45,364.92 43.72,367.68 44.2,370.6 C44.68,373.52 44.18,377.18 43.6,379.9 C43.02,382.62 41.28,384.77 40.7,386.9 C40.12,389.03 39.33,391.35 40.1,392.7 C40.87,394.05 44.13,393.83 45.3,395 C46.47,396.17 47.1,397.95 47.1,399.7 C47.1,401.45 46.57,403.87 45.3,405.5 C44.03,407.13 41.62,408.73 39.5,409.5 C37.38,410.27 34.92,410.28 32.6,410.1 C30.28,409.92 27.35,409.57 25.6,408.4 C23.85,407.23 23.07,405.13 22.1,403.1 C21.13,401.07 21.15,398.9 19.8,396.2 C18.45,393.5 15.65,390 14,386.9 C12.35,383.8 10.68,380.9 9.9,377.6 C9.12,374.3 9.02,370.4 9.3,367.1 C9.58,363.8 10.25,360.03 11.6,357.8 Z" fill="url(#mesh)" stroke="#9a9a9a" stroke-width="3.0" stroke-opacity="0.4" clip-path="url(#cp32)"/>
<path d="M11.6,357.8 C12.95,355.57 15.07,354.57 17.4,353.7 C19.73,352.83 22.88,352.3 25.6,352.6 C28.32,352.9 31.18,353.87 33.7,355.5 C36.22,357.13 38.95,359.88 40.7,362.4 C42.45,364.92 43.72,367.68 44.2,370.6 C44.68,373.52 44.18,377.18 43.6,379.9 C43.02,382.62 41.28,384.77 40.7,386.9 C40.12,389.03 39.33,391.35 40.1,392.7 C40.87,394.05 44.13,393.83 45.3,395 C46.47,396.17 47.1,397.95 47.1,399.7 C47.1,401.45 46.57,403.87 45.3,405.5 C44.03,407.13 41.62,408.73 39.5,409.5 C37.38,410.27 34.92,410.28 32.6,410.1 C30.28,409.92 27.35,409.57 25.6,408.4 C23.85,407.23 23.07,405.13 22.1,403.1 C21.13,401.07 21.15,398.9 19.8,396.2 C18.45,393.5 15.65,390 14,386.9 C12.35,383.8 10.68,380.9 9.9,377.6 C9.12,374.3 9.02,370.4 9.3,367.1 C9.58,363.8 10.25,360.03 11.6,357.8 Z" fill="none" stroke="#8a8a8a" stroke-width="0.7"/>
<line x1="34.9" y1="401.4" x2="40.7" y2="401.4" stroke="#3030e0" stroke-width="1.5" />
<circle cx="28.5" cy="400.8" r="0.9" fill="#222"/>
<clipPath id="cp33"><path d="M69.7,361.2 C71.57,360.43 73.67,359.68 76.3,359.9 C78.93,360.12 82.88,361.08 85.5,362.5 C88.12,363.92 90.58,366.1 92,368.4 C93.42,370.7 93.55,373.57 94,376.3 C94.45,379.03 93.27,383.17 94.7,384.8 C96.13,386.43 99.53,385.67 102.6,386.1 C105.67,386.53 109.82,387.07 113.1,387.4 C116.38,387.73 119.78,387.55 122.3,388.1 C124.82,388.65 127.12,389.38 128.2,390.7 C129.28,392.02 128.92,394.02 128.8,396 C128.68,397.98 127.5,400.42 127.5,402.6 C127.5,404.78 129.23,407.13 128.8,409.1 C128.37,411.07 126.65,413.73 124.9,414.4 C123.15,415.07 120.48,413.98 118.3,413.1 C116.12,412.22 114.42,409.98 111.8,409.1 C109.18,408.22 105.67,407.9 102.6,407.8 C99.53,407.7 96.25,407.83 93.4,408.5 C90.55,409.17 88.35,410.82 85.5,411.8 C82.65,412.78 78.93,414.18 76.3,414.4 C73.67,414.62 71.9,414.2 69.7,413.1 C67.5,412 65.5,409.33 63.1,407.8 C60.7,406.27 57.05,405.43 55.3,403.9 C53.55,402.37 52.6,400.35 52.6,398.6 C52.6,396.85 53.55,394.5 55.3,393.4 C57.05,392.3 60.7,392.67 63.1,392 C65.5,391.33 67.5,390.48 69.7,389.4 C71.9,388.32 75.42,387.03 76.3,385.5 C77.18,383.97 76.32,381.85 75,380.2 C73.68,378.55 70.15,377.35 68.4,375.6 C66.65,373.85 65.05,371.55 64.5,369.7 C63.95,367.85 64.23,365.92 65.1,364.5 C65.97,363.08 67.83,361.97 69.7,361.2 Z"/></clipPath>
<path d="M69.7,361.2 C71.57,360.43 73.67,359.68 76.3,359.9 C78.93,360.12 82.88,361.08 85.5,362.5 C88.12,363.92 90.58,366.1 92,368.4 C93.42,370.7 93.55,373.57 94,376.3 C94.45,379.03 93.27,383.17 94.7,384.8 C96.13,386.43 99.53,385.67 102.6,386.1 C105.67,386.53 109.82,387.07 113.1,387.4 C116.38,387.73 119.78,387.55 122.3,388.1 C124.82,388.65 127.12,389.38 128.2,390.7 C129.28,392.02 128.92,394.02 128.8,396 C128.68,397.98 127.5,400.42 127.5,402.6 C127.5,404.78 129.23,407.13 128.8,409.1 C128.37,411.07 126.65,413.73 124.9,414.4 C123.15,415.07 120.48,413.98 118.3,413.1 C116.12,412.22 114.42,409.98 111.8,409.1 C109.18,408.22 105.67,407.9 102.6,407.8 C99.53,407.7 96.25,407.83 93.4,408.5 C90.55,409.17 88.35,410.82 85.5,411.8 C82.65,412.78 78.93,414.18 76.3,414.4 C73.67,414.62 71.9,414.2 69.7,413.1 C67.5,412 65.5,409.33 63.1,407.8 C60.7,406.27 57.05,405.43 55.3,403.9 C53.55,402.37 52.6,400.35 52.6,398.6 C52.6,396.85 53.55,394.5 55.3,393.4 C57.05,392.3 60.7,392.67 63.1,392 C65.5,391.33 67.5,390.48 69.7,389.4 C71.9,388.32 75.42,387.03 76.3,385.5 C77.18,383.97 76.32,381.85 75,380.2 C73.68,378.55 70.15,377.35 68.4,375.6 C66.65,373.85 65.05,371.55 64.5,369.7 C63.95,367.85 64.23,365.92 65.1,364.5 C65.97,363.08 67.83,361.97 69.7,361.2 Z" fill="url(#mesh)" stroke="#9a9a9a" stroke-width="3.0" stroke-opacity="0.4" clip-path="url(#cp33)"/>
<path d="M69.7,361.2 C71.57,360.43 73.67,359.68 76.3,359.9 C78.93,360.12 82.88,361.08 85.5,362.5 C88.12,363.92 90.58,366.1 92,368.4 C93.42,370.7 93.55,373.57 94,376.3 C94.45,379.03 93.27,383.17 94.7,384.8 C96.13,386.43 99.53,385.67 102.6,386.1 C105.67,386.53 109.82,387.07 113.1,387.4 C116.38,387.73 119.78,387.55 122.3,388.1 C124.82,388.65 127.12,389.38 128.2,390.7 C129.28,392.02 128.92,394.02 128.8,396 C128.68,397.98 127.5,400.42 127.5,402.6 C127.5,404.78 129.23,407.13 128.8,409.1 C128.37,411.07 126.65,413.73 124.9,414.4 C123.15,415.07 120.48,413.98 118.3,413.1 C116.12,412.22 114.42,409.98 111.8,409.1 C109.18,408.22 105.67,407.9 102.6,407.8 C99.53,407.7 96.25,407.83 93.4,408.5 C90.55,409.17 88.35,410.82 85.5,411.8 C82.65,412.78 78.93,414.18 76.3,414.4 C73.67,414.62 71.9,414.2 69.7,413.1 C67.5,412 65.5,409.33 63.1,407.8 C60.7,406.27 57.05,405.43 55.3,403.9 C53.55,402.37 52.6,400.35 52.6,398.6 C52.6,396.85 53.55,394.5 55.3,393.4 C57.05,392.3 60.7,392.67 63.1,392 C65.5,391.33 67.5,390.48 69.7,389.4 C71.9,388.32 75.42,387.03 76.3,385.5 C77.18,383.97 76.32,381.85 75,380.2 C73.68,378.55 70.15,377.35 68.4,375.6 C66.65,373.85 65.05,371.55 64.5,369.7 C63.95,367.85 64.23,365.92 65.1,364.5 C65.97,363.08 67.83,361.97 69.7,361.2 Z" fill="none" stroke="#8a8a8a" stroke-width="0.7"/>
<polygon points="92,392 102.6,390.7 111.8,394.7 111.1,403.9 99.9,406.5 90.7,401.9" fill="none" stroke="#40e020" stroke-width="1.7" stroke-linejoin="round"/>
<polyline points="92,392 84.8,388.1 84.8,373.6" fill="none" stroke="#40e020" stroke-width="1.7" stroke-linejoin="round"/>
<line x1="111.8" y1="394.7" x2="117.7" y2="393.7" stroke="#40e020" stroke-width="1.6" />
<line x1="117.7" y1="393.7" x2="123.6" y2="392.7" stroke="#3030e0" stroke-width="1.6" />
<line x1="111.1" y1="403.9" x2="115.05" y2="405.85" stroke="#40e020" stroke-width="1.6" />
<line x1="115.05" y1="405.85" x2="119" y2="407.8" stroke="#e03040" stroke-width="1.6" />
<polygon points="67.1,398.6 69.7,394 80.2,393.4 88.8,400 88.1,405.8 77.6,405.2" fill="none" stroke="#d030d0" stroke-width="1.7" stroke-linejoin="round"/>
<polyline points="80.2,393.4 82.8,375.6" fill="none" stroke="#d030d0" stroke-width="1.7" stroke-linejoin="round"/>
<line x1="67.1" y1="398.6" x2="61.85" y2="398.6" stroke="#d030d0" stroke-width="1.6" />
<line x1="61.85" y1="398.6" x2="56.6" y2="398.6" stroke="#3030e0" stroke-width="1.6" />
<line x1="77.6" y1="405.2" x2="77.25" y2="408.15" stroke="#d030d0" stroke-width="1.6" />
<line x1="77.25" y1="408.15" x2="76.9" y2="411.1" stroke="#e03040" stroke-width="1.6" />
<line x1="88.8" y1="400" x2="94.35" y2="400.3" stroke="#d030d0" stroke-width="1.6" />
<line x1="94.35" y1="400.3" x2="99.9" y2="400.6" stroke="#e03040" stroke-width="1.6" />
<line x1="73.7" y1="368.4" x2="77.4" y2="369.4" stroke="#e03040" stroke-width="1.4" />
<line x1="78.9" y1="369.7" x2="82.8" y2="373" stroke="#3030e0" stroke-width="1.6" />
<circle cx="61.2" cy="389.4" r="1.7" fill="url(#cyan)"/>
<circle cx="122.9" cy="409.1" r="1.7" fill="url(#cyan)"/>
<circle cx="130.3" cy="425.5" r="5" fill="url(#cu)"/>
<text x="56.6" y="432.8" font-size="14.3" fill="#231f20" text-anchor="start" >200 ms</text>
<clipPath id="cp34"><path d="M149.1,355.8 C150.45,353.57 152.57,352.57 154.9,351.7 C157.23,350.83 160.38,350.3 163.1,350.6 C165.82,350.9 168.68,351.87 171.2,353.5 C173.72,355.13 176.45,357.88 178.2,360.4 C179.95,362.92 181.22,365.68 181.7,368.6 C182.18,371.52 181.68,375.18 181.1,377.9 C180.52,380.62 178.78,382.77 178.2,384.9 C177.62,387.03 176.83,389.35 177.6,390.7 C178.37,392.05 181.63,391.83 182.8,393 C183.97,394.17 184.6,395.95 184.6,397.7 C184.6,399.45 184.07,401.87 182.8,403.5 C181.53,405.13 179.12,406.73 177,407.5 C174.88,408.27 172.42,408.28 170.1,408.1 C167.78,407.92 164.85,407.57 163.1,406.4 C161.35,405.23 160.57,403.13 159.6,401.1 C158.63,399.07 158.65,396.9 157.3,394.2 C155.95,391.5 153.15,388 151.5,384.9 C149.85,381.8 148.18,378.9 147.4,375.6 C146.62,372.3 146.52,368.4 146.8,365.1 C147.08,361.8 147.75,358.03 149.1,355.8 Z"/></clipPath>
<path d="M149.1,355.8 C150.45,353.57 152.57,352.57 154.9,351.7 C157.23,350.83 160.38,350.3 163.1,350.6 C165.82,350.9 168.68,351.87 171.2,353.5 C173.72,355.13 176.45,357.88 178.2,360.4 C179.95,362.92 181.22,365.68 181.7,368.6 C182.18,371.52 181.68,375.18 181.1,377.9 C180.52,380.62 178.78,382.77 178.2,384.9 C177.62,387.03 176.83,389.35 177.6,390.7 C178.37,392.05 181.63,391.83 182.8,393 C183.97,394.17 184.6,395.95 184.6,397.7 C184.6,399.45 184.07,401.87 182.8,403.5 C181.53,405.13 179.12,406.73 177,407.5 C174.88,408.27 172.42,408.28 170.1,408.1 C167.78,407.92 164.85,407.57 163.1,406.4 C161.35,405.23 160.57,403.13 159.6,401.1 C158.63,399.07 158.65,396.9 157.3,394.2 C155.95,391.5 153.15,388 151.5,384.9 C149.85,381.8 148.18,378.9 147.4,375.6 C146.62,372.3 146.52,368.4 146.8,365.1 C147.08,361.8 147.75,358.03 149.1,355.8 Z" fill="url(#mesh)" stroke="#9a9a9a" stroke-width="3.0" stroke-opacity="0.4" clip-path="url(#cp34)"/>
<path d="M149.1,355.8 C150.45,353.57 152.57,352.57 154.9,351.7 C157.23,350.83 160.38,350.3 163.1,350.6 C165.82,350.9 168.68,351.87 171.2,353.5 C173.72,355.13 176.45,357.88 178.2,360.4 C179.95,362.92 181.22,365.68 181.7,368.6 C182.18,371.52 181.68,375.18 181.1,377.9 C180.52,380.62 178.78,382.77 178.2,384.9 C177.62,387.03 176.83,389.35 177.6,390.7 C178.37,392.05 181.63,391.83 182.8,393 C183.97,394.17 184.6,395.95 184.6,397.7 C184.6,399.45 184.07,401.87 182.8,403.5 C181.53,405.13 179.12,406.73 177,407.5 C174.88,408.27 172.42,408.28 170.1,408.1 C167.78,407.92 164.85,407.57 163.1,406.4 C161.35,405.23 160.57,403.13 159.6,401.1 C158.63,399.07 158.65,396.9 157.3,394.2 C155.95,391.5 153.15,388 151.5,384.9 C149.85,381.8 148.18,378.9 147.4,375.6 C146.62,372.3 146.52,368.4 146.8,365.1 C147.08,361.8 147.75,358.03 149.1,355.8 Z" fill="none" stroke="#8a8a8a" stroke-width="0.7"/>
<line x1="172.4" y1="399.4" x2="178.2" y2="399.4" stroke="#3030e0" stroke-width="1.5" />
<circle cx="166" cy="398.8" r="0.9" fill="#222"/>
<clipPath id="cp35"><path d="M190.8,388.1 a3.4,3.4 0 1,0 6.8,0 a3.4,3.4 0 1,0 -6.8,0 Z"/></clipPath>
<path d="M190.8,388.1 a3.4,3.4 0 1,0 6.8,0 a3.4,3.4 0 1,0 -6.8,0 Z" fill="url(#mesh)" stroke="#9a9a9a" stroke-width="3.0" stroke-opacity="0.4" clip-path="url(#cp35)"/>
<path d="M190.8,388.1 a3.4,3.4 0 1,0 6.8,0 a3.4,3.4 0 1,0 -6.8,0 Z" fill="none" stroke="#8a8a8a" stroke-width="0.7"/>
<circle cx="194.2" cy="388.1" r="1.7" fill="url(#cyan)"/>
<clipPath id="cp36"><path d="M203.4,356.6 C205.7,355.73 208.67,356.05 211.3,356.6 C213.93,357.15 217.02,358.37 219.2,359.9 C221.38,361.43 223.2,363.52 224.4,365.8 C225.6,368.08 225.97,371.08 226.4,373.6 C226.83,376.12 225.58,379.58 227,380.9 C228.42,382.22 231.83,381.18 234.9,381.5 C237.97,381.82 241.9,382.25 245.4,382.8 C248.9,383.35 253.38,384.03 255.9,384.8 C258.42,385.57 260.05,386.2 260.5,387.4 C260.95,388.6 258.82,390.13 258.6,392 C258.38,393.87 259.2,396.4 259.2,398.6 C259.2,400.8 259.58,403.55 258.6,405.2 C257.62,406.85 255.72,408.28 253.3,408.5 C250.88,408.72 247.17,407.05 244.1,406.5 C241.03,405.95 238.18,405.42 234.9,405.2 C231.62,404.98 227.47,404.77 224.4,405.2 C221.33,405.63 218.68,407.37 216.5,407.8 C214.32,408.23 213.27,408.23 211.3,407.8 C209.33,407.37 206.45,406.52 204.7,405.2 C202.95,403.88 201.45,401.87 200.8,399.9 C200.15,397.93 200.15,395.15 200.8,393.4 C201.45,391.65 203.38,390.72 204.7,389.4 C206.02,388.08 208.15,387.13 208.7,385.5 C209.25,383.87 209.1,381.35 208,379.6 C206.9,377.85 203.97,376.87 202.1,375 C200.23,373.13 197.57,370.6 196.8,368.4 C196.03,366.2 196.4,363.77 197.5,361.8 C198.6,359.83 201.1,357.47 203.4,356.6 Z"/></clipPath>
<path d="M203.4,356.6 C205.7,355.73 208.67,356.05 211.3,356.6 C213.93,357.15 217.02,358.37 219.2,359.9 C221.38,361.43 223.2,363.52 224.4,365.8 C225.6,368.08 225.97,371.08 226.4,373.6 C226.83,376.12 225.58,379.58 227,380.9 C228.42,382.22 231.83,381.18 234.9,381.5 C237.97,381.82 241.9,382.25 245.4,382.8 C248.9,383.35 253.38,384.03 255.9,384.8 C258.42,385.57 260.05,386.2 260.5,387.4 C260.95,388.6 258.82,390.13 258.6,392 C258.38,393.87 259.2,396.4 259.2,398.6 C259.2,400.8 259.58,403.55 258.6,405.2 C257.62,406.85 255.72,408.28 253.3,408.5 C250.88,408.72 247.17,407.05 244.1,406.5 C241.03,405.95 238.18,405.42 234.9,405.2 C231.62,404.98 227.47,404.77 224.4,405.2 C221.33,405.63 218.68,407.37 216.5,407.8 C214.32,408.23 213.27,408.23 211.3,407.8 C209.33,407.37 206.45,406.52 204.7,405.2 C202.95,403.88 201.45,401.87 200.8,399.9 C200.15,397.93 200.15,395.15 200.8,393.4 C201.45,391.65 203.38,390.72 204.7,389.4 C206.02,388.08 208.15,387.13 208.7,385.5 C209.25,383.87 209.1,381.35 208,379.6 C206.9,377.85 203.97,376.87 202.1,375 C200.23,373.13 197.57,370.6 196.8,368.4 C196.03,366.2 196.4,363.77 197.5,361.8 C198.6,359.83 201.1,357.47 203.4,356.6 Z" fill="url(#mesh)" stroke="#9a9a9a" stroke-width="3.0" stroke-opacity="0.4" clip-path="url(#cp36)"/>
<path d="M203.4,356.6 C205.7,355.73 208.67,356.05 211.3,356.6 C213.93,357.15 217.02,358.37 219.2,359.9 C221.38,361.43 223.2,363.52 224.4,365.8 C225.6,368.08 225.97,371.08 226.4,373.6 C226.83,376.12 225.58,379.58 227,380.9 C228.42,382.22 231.83,381.18 234.9,381.5 C237.97,381.82 241.9,382.25 245.4,382.8 C248.9,383.35 253.38,384.03 255.9,384.8 C258.42,385.57 260.05,386.2 260.5,387.4 C260.95,388.6 258.82,390.13 258.6,392 C258.38,393.87 259.2,396.4 259.2,398.6 C259.2,400.8 259.58,403.55 258.6,405.2 C257.62,406.85 255.72,408.28 253.3,408.5 C250.88,408.72 247.17,407.05 244.1,406.5 C241.03,405.95 238.18,405.42 234.9,405.2 C231.62,404.98 227.47,404.77 224.4,405.2 C221.33,405.63 218.68,407.37 216.5,407.8 C214.32,408.23 213.27,408.23 211.3,407.8 C209.33,407.37 206.45,406.52 204.7,405.2 C202.95,403.88 201.45,401.87 200.8,399.9 C200.15,397.93 200.15,395.15 200.8,393.4 C201.45,391.65 203.38,390.72 204.7,389.4 C206.02,388.08 208.15,387.13 208.7,385.5 C209.25,383.87 209.1,381.35 208,379.6 C206.9,377.85 203.97,376.87 202.1,375 C200.23,373.13 197.57,370.6 196.8,368.4 C196.03,366.2 196.4,363.77 197.5,361.8 C198.6,359.83 201.1,357.47 203.4,356.6 Z" fill="none" stroke="#8a8a8a" stroke-width="0.7"/>
<polygon points="225.7,389.4 237.6,386.8 246.8,390.7 246.1,400.6 234.9,402.6 224.4,398.6" fill="none" stroke="#40e020" stroke-width="1.7" stroke-linejoin="round"/>
<polyline points="225.7,389.4 217.2,384.2 217.2,371" fill="none" stroke="#40e020" stroke-width="1.7" stroke-linejoin="round"/>
<line x1="246.8" y1="390.7" x2="252.7" y2="389.4" stroke="#40e020" stroke-width="1.6" />
<line x1="252.7" y1="389.4" x2="258.6" y2="388.1" stroke="#3030e0" stroke-width="1.6" />
<line x1="246.1" y1="400.6" x2="251.05" y2="402.25" stroke="#40e020" stroke-width="1.6" />
<line x1="251.05" y1="402.25" x2="256" y2="403.9" stroke="#e03040" stroke-width="1.6" />
<polygon points="203.4,393.5 215.2,390.1 223.8,396 222.4,401.9 213.2,401.9 203.4,396.6" fill="none" stroke="#d030d0" stroke-width="1.7" stroke-linejoin="round"/>
<polyline points="215.2,390.1 216.5,372.3" fill="none" stroke="#d030d0" stroke-width="1.7" stroke-linejoin="round"/>
<line x1="203.4" y1="393.5" x2="197.5" y2="394.75" stroke="#d030d0" stroke-width="1.6" />
<line x1="197.5" y1="394.75" x2="191.6" y2="396" stroke="#3030e0" stroke-width="1.6" />
<line x1="213.9" y1="402.6" x2="213.9" y2="405.55" stroke="#d030d0" stroke-width="1.6" />
<line x1="213.9" y1="405.55" x2="213.9" y2="408.5" stroke="#e03040" stroke-width="1.6" />
<line x1="225.7" y1="396" x2="230.3" y2="396.1" stroke="#d030d0" stroke-width="1.6" />
<line x1="230.3" y1="396.1" x2="234.9" y2="396.2" stroke="#e03040" stroke-width="1.6" />
<line x1="206" y1="365.1" x2="209.3" y2="366.4" stroke="#e03040" stroke-width="1.4" />
<line x1="211.9" y1="365.8" x2="215.9" y2="369.1" stroke="#3030e0" stroke-width="1.6" />
<circle cx="194.2" cy="388.1" r="1.7" fill="url(#cyan)"/>
<circle cx="259.2" cy="401.9" r="1.7" fill="url(#cyan)"/>
<circle cx="266.7" cy="418.8" r="5" fill="url(#cu)"/>
<text x="192" y="432.8" font-size="14.3" fill="#231f20" text-anchor="start" >300 ms</text>
<clipPath id="cp37"><path d="M289.1,355.4 C290.45,353.17 292.57,352.17 294.9,351.3 C297.23,350.43 300.38,349.9 303.1,350.2 C305.82,350.5 308.68,351.47 311.2,353.1 C313.72,354.73 316.45,357.48 318.2,360 C319.95,362.52 321.22,365.28 321.7,368.2 C322.18,371.12 321.68,374.78 321.1,377.5 C320.52,380.22 318.78,382.37 318.2,384.5 C317.62,386.63 316.83,388.95 317.6,390.3 C318.37,391.65 321.63,391.43 322.8,392.6 C323.97,393.77 324.6,395.55 324.6,397.3 C324.6,399.05 324.07,401.47 322.8,403.1 C321.53,404.73 319.12,406.33 317,407.1 C314.88,407.87 312.42,407.88 310.1,407.7 C307.78,407.52 304.85,407.17 303.1,406 C301.35,404.83 300.57,402.73 299.6,400.7 C298.63,398.67 298.65,396.5 297.3,393.8 C295.95,391.1 293.15,387.6 291.5,384.5 C289.85,381.4 288.18,378.5 287.4,375.2 C286.62,371.9 286.52,368 286.8,364.7 C287.08,361.4 287.75,357.63 289.1,355.4 Z"/></clipPath>
<path d="M289.1,355.4 C290.45,353.17 292.57,352.17 294.9,351.3 C297.23,350.43 300.38,349.9 303.1,350.2 C305.82,350.5 308.68,351.47 311.2,353.1 C313.72,354.73 316.45,357.48 318.2,360 C319.95,362.52 321.22,365.28 321.7,368.2 C322.18,371.12 321.68,374.78 321.1,377.5 C320.52,380.22 318.78,382.37 318.2,384.5 C317.62,386.63 316.83,388.95 317.6,390.3 C318.37,391.65 321.63,391.43 322.8,392.6 C323.97,393.77 324.6,395.55 324.6,397.3 C324.6,399.05 324.07,401.47 322.8,403.1 C321.53,404.73 319.12,406.33 317,407.1 C314.88,407.87 312.42,407.88 310.1,407.7 C307.78,407.52 304.85,407.17 303.1,406 C301.35,404.83 300.57,402.73 299.6,400.7 C298.63,398.67 298.65,396.5 297.3,393.8 C295.95,391.1 293.15,387.6 291.5,384.5 C289.85,381.4 288.18,378.5 287.4,375.2 C286.62,371.9 286.52,368 286.8,364.7 C287.08,361.4 287.75,357.63 289.1,355.4 Z" fill="url(#mesh)" stroke="#9a9a9a" stroke-width="3.0" stroke-opacity="0.4" clip-path="url(#cp37)"/>
<path d="M289.1,355.4 C290.45,353.17 292.57,352.17 294.9,351.3 C297.23,350.43 300.38,349.9 303.1,350.2 C305.82,350.5 308.68,351.47 311.2,353.1 C313.72,354.73 316.45,357.48 318.2,360 C319.95,362.52 321.22,365.28 321.7,368.2 C322.18,371.12 321.68,374.78 321.1,377.5 C320.52,380.22 318.78,382.37 318.2,384.5 C317.62,386.63 316.83,388.95 317.6,390.3 C318.37,391.65 321.63,391.43 322.8,392.6 C323.97,393.77 324.6,395.55 324.6,397.3 C324.6,399.05 324.07,401.47 322.8,403.1 C321.53,404.73 319.12,406.33 317,407.1 C314.88,407.87 312.42,407.88 310.1,407.7 C307.78,407.52 304.85,407.17 303.1,406 C301.35,404.83 300.57,402.73 299.6,400.7 C298.63,398.67 298.65,396.5 297.3,393.8 C295.95,391.1 293.15,387.6 291.5,384.5 C289.85,381.4 288.18,378.5 287.4,375.2 C286.62,371.9 286.52,368 286.8,364.7 C287.08,361.4 287.75,357.63 289.1,355.4 Z" fill="none" stroke="#8a8a8a" stroke-width="0.7"/>
<line x1="312.4" y1="399" x2="318.2" y2="399" stroke="#3030e0" stroke-width="1.5" />
<circle cx="306" cy="398.4" r="0.9" fill="#222"/>
<clipPath id="cp38"><path d="M334.4,388.8 a3.5,3.5 0 1,0 7,0 a3.5,3.5 0 1,0 -7,0 Z"/></clipPath>
<path d="M334.4,388.8 a3.5,3.5 0 1,0 7,0 a3.5,3.5 0 1,0 -7,0 Z" fill="url(#mesh)" stroke="#9a9a9a" stroke-width="3.0" stroke-opacity="0.4" clip-path="url(#cp38)"/>
<path d="M334.4,388.8 a3.5,3.5 0 1,0 7,0 a3.5,3.5 0 1,0 -7,0 Z" fill="none" stroke="#8a8a8a" stroke-width="0.7"/>
<circle cx="337.9" cy="388.8" r="1.7" fill="url(#cyan)"/>
<clipPath id="cp39"><path d="M347.1,358.5 C349.18,357.85 352.38,357.57 355,357.9 C357.62,358.23 360.4,359.18 362.8,360.5 C365.2,361.82 367.97,363.62 369.4,365.8 C370.83,367.98 370.73,371.2 371.4,373.6 C372.07,376 371.53,378.98 373.4,380.2 C375.27,381.42 379.32,380.57 382.6,380.9 C385.88,381.23 389.6,381.55 393.1,382.2 C396.6,382.85 401.42,383.6 403.6,384.8 C405.78,386 406.1,387.75 406.2,389.4 C406.3,391.05 404.2,392.73 404.2,394.7 C404.2,396.67 406.08,399.02 406.2,401.2 C406.32,403.38 406.22,406.03 404.9,407.8 C403.58,409.57 400.93,411.58 398.3,411.8 C395.67,412.02 392.38,409.77 389.1,409.1 C385.82,408.43 382.1,408.02 378.6,407.8 C375.1,407.58 371.38,407.47 368.1,407.8 C364.82,408.13 361.75,409.68 358.9,409.8 C356.05,409.92 353.18,409.48 351,408.5 C348.82,407.52 347,405.77 345.8,403.9 C344.6,402.03 343.8,399.28 343.8,397.3 C343.8,395.32 344.6,393.42 345.8,392 C347,390.58 349.58,390.1 351,388.8 C352.42,387.5 354.08,385.97 354.3,384.2 C354.52,382.43 353.72,379.85 352.3,378.2 C350.88,376.55 347.65,376.15 345.8,374.3 C343.95,372.45 341.75,369.18 341.2,367.1 C340.65,365.02 341.52,363.23 342.5,361.8 C343.48,360.37 345.02,359.15 347.1,358.5 Z"/></clipPath>
<path d="M347.1,358.5 C349.18,357.85 352.38,357.57 355,357.9 C357.62,358.23 360.4,359.18 362.8,360.5 C365.2,361.82 367.97,363.62 369.4,365.8 C370.83,367.98 370.73,371.2 371.4,373.6 C372.07,376 371.53,378.98 373.4,380.2 C375.27,381.42 379.32,380.57 382.6,380.9 C385.88,381.23 389.6,381.55 393.1,382.2 C396.6,382.85 401.42,383.6 403.6,384.8 C405.78,386 406.1,387.75 406.2,389.4 C406.3,391.05 404.2,392.73 404.2,394.7 C404.2,396.67 406.08,399.02 406.2,401.2 C406.32,403.38 406.22,406.03 404.9,407.8 C403.58,409.57 400.93,411.58 398.3,411.8 C395.67,412.02 392.38,409.77 389.1,409.1 C385.82,408.43 382.1,408.02 378.6,407.8 C375.1,407.58 371.38,407.47 368.1,407.8 C364.82,408.13 361.75,409.68 358.9,409.8 C356.05,409.92 353.18,409.48 351,408.5 C348.82,407.52 347,405.77 345.8,403.9 C344.6,402.03 343.8,399.28 343.8,397.3 C343.8,395.32 344.6,393.42 345.8,392 C347,390.58 349.58,390.1 351,388.8 C352.42,387.5 354.08,385.97 354.3,384.2 C354.52,382.43 353.72,379.85 352.3,378.2 C350.88,376.55 347.65,376.15 345.8,374.3 C343.95,372.45 341.75,369.18 341.2,367.1 C340.65,365.02 341.52,363.23 342.5,361.8 C343.48,360.37 345.02,359.15 347.1,358.5 Z" fill="url(#mesh)" stroke="#9a9a9a" stroke-width="3.0" stroke-opacity="0.4" clip-path="url(#cp39)"/>
<path d="M347.1,358.5 C349.18,357.85 352.38,357.57 355,357.9 C357.62,358.23 360.4,359.18 362.8,360.5 C365.2,361.82 367.97,363.62 369.4,365.8 C370.83,367.98 370.73,371.2 371.4,373.6 C372.07,376 371.53,378.98 373.4,380.2 C375.27,381.42 379.32,380.57 382.6,380.9 C385.88,381.23 389.6,381.55 393.1,382.2 C396.6,382.85 401.42,383.6 403.6,384.8 C405.78,386 406.1,387.75 406.2,389.4 C406.3,391.05 404.2,392.73 404.2,394.7 C404.2,396.67 406.08,399.02 406.2,401.2 C406.32,403.38 406.22,406.03 404.9,407.8 C403.58,409.57 400.93,411.58 398.3,411.8 C395.67,412.02 392.38,409.77 389.1,409.1 C385.82,408.43 382.1,408.02 378.6,407.8 C375.1,407.58 371.38,407.47 368.1,407.8 C364.82,408.13 361.75,409.68 358.9,409.8 C356.05,409.92 353.18,409.48 351,408.5 C348.82,407.52 347,405.77 345.8,403.9 C344.6,402.03 343.8,399.28 343.8,397.3 C343.8,395.32 344.6,393.42 345.8,392 C347,390.58 349.58,390.1 351,388.8 C352.42,387.5 354.08,385.97 354.3,384.2 C354.52,382.43 353.72,379.85 352.3,378.2 C350.88,376.55 347.65,376.15 345.8,374.3 C343.95,372.45 341.75,369.18 341.2,367.1 C340.65,365.02 341.52,363.23 342.5,361.8 C343.48,360.37 345.02,359.15 347.1,358.5 Z" fill="none" stroke="#8a8a8a" stroke-width="0.7"/>
<polygon points="370.7,389.4 382.6,386.8 391.8,390.1 391.1,399.9 379.9,401.9 369.4,398.6" fill="none" stroke="#40e020" stroke-width="1.7" stroke-linejoin="round"/>
<polyline points="370.7,389.4 361.5,385.5 361.5,371.7" fill="none" stroke="#40e020" stroke-width="1.7" stroke-linejoin="round"/>
<line x1="391.8" y1="390.1" x2="397.35" y2="389.1" stroke="#40e020" stroke-width="1.6" />
<line x1="397.35" y1="389.1" x2="402.9" y2="388.1" stroke="#3030e0" stroke-width="1.6" />
<line x1="391.1" y1="399.9" x2="396.05" y2="401.9" stroke="#40e020" stroke-width="1.6" />
<line x1="396.05" y1="401.9" x2="401" y2="403.9" stroke="#e03040" stroke-width="1.6" />
<polygon points="348.4,392 359.6,390.7 368.1,396 368.1,402.6 358.2,402.6 348.4,397.3" fill="none" stroke="#d030d0" stroke-width="1.7" stroke-linejoin="round"/>
<polyline points="359.6,390.7 361.5,372.3" fill="none" stroke="#d030d0" stroke-width="1.7" stroke-linejoin="round"/>
<line x1="348.4" y1="392" x2="342.15" y2="394.3" stroke="#d030d0" stroke-width="1.6" />
<line x1="342.15" y1="394.3" x2="335.9" y2="396.6" stroke="#3030e0" stroke-width="1.6" />
<line x1="358.2" y1="402.6" x2="358.2" y2="405.85" stroke="#d030d0" stroke-width="1.6" />
<line x1="358.2" y1="405.85" x2="358.2" y2="409.1" stroke="#e03040" stroke-width="1.6" />
<line x1="369.4" y1="396.6" x2="374.35" y2="396.8" stroke="#d030d0" stroke-width="1.6" />
<line x1="374.35" y1="396.8" x2="379.3" y2="397" stroke="#e03040" stroke-width="1.6" />
<line x1="349.7" y1="366.4" x2="353.5" y2="367.1" stroke="#e03040" stroke-width="1.4" />
<line x1="355.6" y1="366.4" x2="360.2" y2="369.7" stroke="#3030e0" stroke-width="1.6" />
<circle cx="337.9" cy="388.8" r="1.7" fill="url(#cyan)"/>
<circle cx="401" cy="403.2" r="1.7" fill="url(#cyan)"/>
<circle cx="410.8" cy="409.8" r="1.7" fill="url(#cyan)"/>
<circle cx="410.3" cy="420.5" r="5" fill="url(#cu)"/>
<text x="326" y="432.8" font-size="14.3" fill="#231f20" text-anchor="start" >400 ms</text>
<clipPath id="cp40"><path d="M428.1,357 C429.45,354.77 431.57,353.77 433.9,352.9 C436.23,352.03 439.38,351.5 442.1,351.8 C444.82,352.1 447.68,353.07 450.2,354.7 C452.72,356.33 455.45,359.08 457.2,361.6 C458.95,364.12 460.22,366.88 460.7,369.8 C461.18,372.72 460.68,376.38 460.1,379.1 C459.52,381.82 457.78,383.97 457.2,386.1 C456.62,388.23 455.83,390.55 456.6,391.9 C457.37,393.25 460.63,393.03 461.8,394.2 C462.97,395.37 463.6,397.15 463.6,398.9 C463.6,400.65 463.07,403.07 461.8,404.7 C460.53,406.33 458.12,407.93 456,408.7 C453.88,409.47 451.42,409.48 449.1,409.3 C446.78,409.12 443.85,408.77 442.1,407.6 C440.35,406.43 439.57,404.33 438.6,402.3 C437.63,400.27 437.65,398.1 436.3,395.4 C434.95,392.7 432.15,389.2 430.5,386.1 C428.85,383 427.18,380.1 426.4,376.8 C425.62,373.5 425.52,369.6 425.8,366.3 C426.08,363 426.75,359.23 428.1,357 Z"/></clipPath>
<path d="M428.1,357 C429.45,354.77 431.57,353.77 433.9,352.9 C436.23,352.03 439.38,351.5 442.1,351.8 C444.82,352.1 447.68,353.07 450.2,354.7 C452.72,356.33 455.45,359.08 457.2,361.6 C458.95,364.12 460.22,366.88 460.7,369.8 C461.18,372.72 460.68,376.38 460.1,379.1 C459.52,381.82 457.78,383.97 457.2,386.1 C456.62,388.23 455.83,390.55 456.6,391.9 C457.37,393.25 460.63,393.03 461.8,394.2 C462.97,395.37 463.6,397.15 463.6,398.9 C463.6,400.65 463.07,403.07 461.8,404.7 C460.53,406.33 458.12,407.93 456,408.7 C453.88,409.47 451.42,409.48 449.1,409.3 C446.78,409.12 443.85,408.77 442.1,407.6 C440.35,406.43 439.57,404.33 438.6,402.3 C437.63,400.27 437.65,398.1 436.3,395.4 C434.95,392.7 432.15,389.2 430.5,386.1 C428.85,383 427.18,380.1 426.4,376.8 C425.62,373.5 425.52,369.6 425.8,366.3 C426.08,363 426.75,359.23 428.1,357 Z" fill="url(#mesh)" stroke="#9a9a9a" stroke-width="3.0" stroke-opacity="0.4" clip-path="url(#cp40)"/>
<path d="M428.1,357 C429.45,354.77 431.57,353.77 433.9,352.9 C436.23,352.03 439.38,351.5 442.1,351.8 C444.82,352.1 447.68,353.07 450.2,354.7 C452.72,356.33 455.45,359.08 457.2,361.6 C458.95,364.12 460.22,366.88 460.7,369.8 C461.18,372.72 460.68,376.38 460.1,379.1 C459.52,381.82 457.78,383.97 457.2,386.1 C456.62,388.23 455.83,390.55 456.6,391.9 C457.37,393.25 460.63,393.03 461.8,394.2 C462.97,395.37 463.6,397.15 463.6,398.9 C463.6,400.65 463.07,403.07 461.8,404.7 C460.53,406.33 458.12,407.93 456,408.7 C453.88,409.47 451.42,409.48 449.1,409.3 C446.78,409.12 443.85,408.77 442.1,407.6 C440.35,406.43 439.57,404.33 438.6,402.3 C437.63,400.27 437.65,398.1 436.3,395.4 C434.95,392.7 432.15,389.2 430.5,386.1 C428.85,383 427.18,380.1 426.4,376.8 C425.62,373.5 425.52,369.6 425.8,366.3 C426.08,363 426.75,359.23 428.1,357 Z" fill="none" stroke="#8a8a8a" stroke-width="0.7"/>
<line x1="451.4" y1="400.6" x2="457.2" y2="400.6" stroke="#3030e0" stroke-width="1.5" />
<circle cx="445" cy="400" r="0.9" fill="#222"/>
<clipPath id="cp41"><path d="M472.3,388.8 a3.9,3.9 0 1,0 7.8,0 a3.9,3.9 0 1,0 -7.8,0 Z"/></clipPath>
<path d="M472.3,388.8 a3.9,3.9 0 1,0 7.8,0 a3.9,3.9 0 1,0 -7.8,0 Z" fill="url(#mesh)" stroke="#9a9a9a" stroke-width="3.0" stroke-opacity="0.4" clip-path="url(#cp41)"/>
<path d="M472.3,388.8 a3.9,3.9 0 1,0 7.8,0 a3.9,3.9 0 1,0 -7.8,0 Z" fill="none" stroke="#8a8a8a" stroke-width="0.7"/>
<circle cx="476.2" cy="388.8" r="1.7" fill="url(#cyan)"/>
<clipPath id="cp42"><path d="M484.7,359.9 C486.57,359.25 488.88,358.88 491.3,359.2 C493.72,359.52 496.9,360.38 499.2,361.8 C501.5,363.22 503.9,365.4 505.1,367.7 C506.3,370 505.85,373.08 506.4,375.6 C506.95,378.12 506.53,381.37 508.4,382.8 C510.27,384.23 514.32,383.87 517.6,384.2 C520.88,384.53 524.93,384.27 528.1,384.8 C531.27,385.33 534.97,386.3 536.6,387.4 C538.23,388.5 538,389.97 537.9,391.4 C537.8,392.83 535.67,394.37 536,396 C536.33,397.63 539.03,399.45 539.9,401.2 C540.77,402.95 541.63,404.73 541.2,406.5 C540.77,408.27 539.05,410.92 537.3,411.8 C535.55,412.68 533.33,412.25 530.7,411.8 C528.07,411.35 524.78,409.65 521.5,409.1 C518.22,408.55 514.28,408.5 511,408.5 C507.72,408.5 504.43,408.78 501.8,409.1 C499.17,409.42 497.4,410.5 495.2,410.4 C493,410.3 490.13,409.58 488.6,408.5 C487.07,407.42 486.22,405.77 486,403.9 C485.78,402.03 486.42,399.05 487.3,397.3 C488.18,395.55 490.75,395.15 491.3,393.4 C491.85,391.65 491.48,388.78 490.6,386.8 C489.72,384.82 487.63,383.25 486,381.5 C484.37,379.75 482,378.27 480.8,376.3 C479.6,374.33 478.92,371.9 478.8,369.7 C478.68,367.5 479.12,364.73 480.1,363.1 C481.08,361.47 482.83,360.55 484.7,359.9 Z"/></clipPath>
<path d="M484.7,359.9 C486.57,359.25 488.88,358.88 491.3,359.2 C493.72,359.52 496.9,360.38 499.2,361.8 C501.5,363.22 503.9,365.4 505.1,367.7 C506.3,370 505.85,373.08 506.4,375.6 C506.95,378.12 506.53,381.37 508.4,382.8 C510.27,384.23 514.32,383.87 517.6,384.2 C520.88,384.53 524.93,384.27 528.1,384.8 C531.27,385.33 534.97,386.3 536.6,387.4 C538.23,388.5 538,389.97 537.9,391.4 C537.8,392.83 535.67,394.37 536,396 C536.33,397.63 539.03,399.45 539.9,401.2 C540.77,402.95 541.63,404.73 541.2,406.5 C540.77,408.27 539.05,410.92 537.3,411.8 C535.55,412.68 533.33,412.25 530.7,411.8 C528.07,411.35 524.78,409.65 521.5,409.1 C518.22,408.55 514.28,408.5 511,408.5 C507.72,408.5 504.43,408.78 501.8,409.1 C499.17,409.42 497.4,410.5 495.2,410.4 C493,410.3 490.13,409.58 488.6,408.5 C487.07,407.42 486.22,405.77 486,403.9 C485.78,402.03 486.42,399.05 487.3,397.3 C488.18,395.55 490.75,395.15 491.3,393.4 C491.85,391.65 491.48,388.78 490.6,386.8 C489.72,384.82 487.63,383.25 486,381.5 C484.37,379.75 482,378.27 480.8,376.3 C479.6,374.33 478.92,371.9 478.8,369.7 C478.68,367.5 479.12,364.73 480.1,363.1 C481.08,361.47 482.83,360.55 484.7,359.9 Z" fill="url(#mesh)" stroke="#9a9a9a" stroke-width="3.0" stroke-opacity="0.4" clip-path="url(#cp42)"/>
<path d="M484.7,359.9 C486.57,359.25 488.88,358.88 491.3,359.2 C493.72,359.52 496.9,360.38 499.2,361.8 C501.5,363.22 503.9,365.4 505.1,367.7 C506.3,370 505.85,373.08 506.4,375.6 C506.95,378.12 506.53,381.37 508.4,382.8 C510.27,384.23 514.32,383.87 517.6,384.2 C520.88,384.53 524.93,384.27 528.1,384.8 C531.27,385.33 534.97,386.3 536.6,387.4 C538.23,388.5 538,389.97 537.9,391.4 C537.8,392.83 535.67,394.37 536,396 C536.33,397.63 539.03,399.45 539.9,401.2 C540.77,402.95 541.63,404.73 541.2,406.5 C540.77,408.27 539.05,410.92 537.3,411.8 C535.55,412.68 533.33,412.25 530.7,411.8 C528.07,411.35 524.78,409.65 521.5,409.1 C518.22,408.55 514.28,408.5 511,408.5 C507.72,408.5 504.43,408.78 501.8,409.1 C499.17,409.42 497.4,410.5 495.2,410.4 C493,410.3 490.13,409.58 488.6,408.5 C487.07,407.42 486.22,405.77 486,403.9 C485.78,402.03 486.42,399.05 487.3,397.3 C488.18,395.55 490.75,395.15 491.3,393.4 C491.85,391.65 491.48,388.78 490.6,386.8 C489.72,384.82 487.63,383.25 486,381.5 C484.37,379.75 482,378.27 480.8,376.3 C479.6,374.33 478.92,371.9 478.8,369.7 C478.68,367.5 479.12,364.73 480.1,363.1 C481.08,361.47 482.83,360.55 484.7,359.9 Z" fill="none" stroke="#8a8a8a" stroke-width="0.7"/>
<polygon points="507,392 517.6,389.4 526.8,393.4 525.4,402.6 514.9,403.9 505.1,400.6" fill="none" stroke="#40e020" stroke-width="1.7" stroke-linejoin="round"/>
<polyline points="507,392 497.8,388.1 498.5,373.6" fill="none" stroke="#40e020" stroke-width="1.7" stroke-linejoin="round"/>
<line x1="526.8" y1="393.4" x2="532.35" y2="392.4" stroke="#40e020" stroke-width="1.6" />
<line x1="532.35" y1="392.4" x2="537.9" y2="391.4" stroke="#3030e0" stroke-width="1.6" />
<line x1="525.4" y1="402.6" x2="530" y2="404.2" stroke="#40e020" stroke-width="1.6" />
<line x1="530" y1="404.2" x2="534.6" y2="405.8" stroke="#e03040" stroke-width="1.6" />
<polygon points="484.7,392 495.2,391.4 503.1,396 503.1,403.2 493.2,403.9 483.4,397.3" fill="none" stroke="#d030d0" stroke-width="1.7" stroke-linejoin="round"/>
<polyline points="495.2,391.4 497.8,373.6" fill="none" stroke="#d030d0" stroke-width="1.7" stroke-linejoin="round"/>
<line x1="484.7" y1="392" x2="478.15" y2="394" stroke="#d030d0" stroke-width="1.6" />
<line x1="478.15" y1="394" x2="471.6" y2="396" stroke="#3030e0" stroke-width="1.6" />
<line x1="492.6" y1="403.9" x2="492.25" y2="406.5" stroke="#d030d0" stroke-width="1.6" />
<line x1="492.25" y1="406.5" x2="491.9" y2="409.1" stroke="#e03040" stroke-width="1.6" />
<line x1="505.7" y1="398.6" x2="510" y2="398.95" stroke="#d030d0" stroke-width="1.6" />
<line x1="510" y1="398.95" x2="514.3" y2="399.3" stroke="#e03040" stroke-width="1.6" />
<line x1="486.7" y1="367.7" x2="490.5" y2="368.4" stroke="#e03040" stroke-width="1.4" />
<line x1="493.2" y1="367.7" x2="497.2" y2="371.7" stroke="#3030e0" stroke-width="1.6" />
<circle cx="476.2" cy="388.8" r="1.7" fill="url(#cyan)"/>
<circle cx="534" cy="403.9" r="1.7" fill="url(#cyan)"/>
<circle cx="544.2" cy="422.3" r="5" fill="url(#cu)"/>
<text x="464.5" y="432.8" font-size="14.3" fill="#231f20" text-anchor="start" >500 ms</text>
<clipPath id="cp43"><path d="M557.3,362.5 C558.32,359.6 560.68,357.83 563.4,356.3 C566.12,354.77 569.85,353.12 573.6,353.3 C577.35,353.48 582.83,355.18 585.9,357.4 C588.97,359.62 590.98,363.03 592,366.6 C593.02,370.17 592.52,375.07 592,378.8 C591.48,382.53 588.73,386.43 588.9,389 C589.07,391.57 592.15,392.15 593,394.2 C593.85,396.25 594.85,399.1 594,401.3 C593.15,403.5 590.95,406.2 587.9,407.4 C584.85,408.6 578.93,409.17 575.7,408.5 C572.47,407.83 570.03,405.78 568.5,403.4 C566.97,401.02 567.7,397.27 566.5,394.2 C565.3,391.13 562.83,388.42 561.3,385 C559.77,381.58 557.97,377.45 557.3,373.7 C556.63,369.95 556.28,365.4 557.3,362.5 Z"/></clipPath>
<path d="M557.3,362.5 C558.32,359.6 560.68,357.83 563.4,356.3 C566.12,354.77 569.85,353.12 573.6,353.3 C577.35,353.48 582.83,355.18 585.9,357.4 C588.97,359.62 590.98,363.03 592,366.6 C593.02,370.17 592.52,375.07 592,378.8 C591.48,382.53 588.73,386.43 588.9,389 C589.07,391.57 592.15,392.15 593,394.2 C593.85,396.25 594.85,399.1 594,401.3 C593.15,403.5 590.95,406.2 587.9,407.4 C584.85,408.6 578.93,409.17 575.7,408.5 C572.47,407.83 570.03,405.78 568.5,403.4 C566.97,401.02 567.7,397.27 566.5,394.2 C565.3,391.13 562.83,388.42 561.3,385 C559.77,381.58 557.97,377.45 557.3,373.7 C556.63,369.95 556.28,365.4 557.3,362.5 Z" fill="url(#mesh)" stroke="#9a9a9a" stroke-width="3.0" stroke-opacity="0.4" clip-path="url(#cp43)"/>
<path d="M557.3,362.5 C558.32,359.6 560.68,357.83 563.4,356.3 C566.12,354.77 569.85,353.12 573.6,353.3 C577.35,353.48 582.83,355.18 585.9,357.4 C588.97,359.62 590.98,363.03 592,366.6 C593.02,370.17 592.52,375.07 592,378.8 C591.48,382.53 588.73,386.43 588.9,389 C589.07,391.57 592.15,392.15 593,394.2 C593.85,396.25 594.85,399.1 594,401.3 C593.15,403.5 590.95,406.2 587.9,407.4 C584.85,408.6 578.93,409.17 575.7,408.5 C572.47,407.83 570.03,405.78 568.5,403.4 C566.97,401.02 567.7,397.27 566.5,394.2 C565.3,391.13 562.83,388.42 561.3,385 C559.77,381.58 557.97,377.45 557.3,373.7 C556.63,369.95 556.28,365.4 557.3,362.5 Z" fill="none" stroke="#8a8a8a" stroke-width="0.7"/>
<line x1="581.8" y1="399.7" x2="587.9" y2="399.3" stroke="#3030e0" stroke-width="1.5" />
<clipPath id="cp44"><path d="M602.6,390.6 a7.4,7.6 0 1,0 14.8,0 a7.4,7.6 0 1,0 -14.8,0 Z"/></clipPath>
<path d="M602.6,390.6 a7.4,7.6 0 1,0 14.8,0 a7.4,7.6 0 1,0 -14.8,0 Z" fill="url(#mesh)" stroke="#9a9a9a" stroke-width="3.0" stroke-opacity="0.4" clip-path="url(#cp44)"/>
<path d="M602.6,390.6 a7.4,7.6 0 1,0 14.8,0 a7.4,7.6 0 1,0 -14.8,0 Z" fill="none" stroke="#8a8a8a" stroke-width="0.7"/>
<circle cx="610" cy="390.6" r="1.7" fill="url(#cyan)"/>
<clipPath id="cp45"><path d="M612.4,360.4 C614.1,358.53 617.53,358.4 620.6,358.4 C623.67,358.4 628.23,358.7 630.8,360.4 C633.37,362.1 634.97,365.53 636,368.6 C637.03,371.67 636.15,376.25 637,378.8 C637.85,381.35 638.03,383.22 641.1,383.9 C644.17,384.58 650.3,383.07 655.4,382.9 C660.5,382.73 667.97,381.88 671.7,382.9 C675.43,383.92 676.95,386.27 677.8,389 C678.65,391.73 677.47,395.72 676.8,399.3 C676.13,402.88 676.02,408.28 673.8,410.5 C671.58,412.72 667.93,412.43 663.5,412.6 C659.07,412.77 652.65,411.85 647.2,411.5 C641.75,411.15 635.07,411.18 630.8,410.5 C626.53,409.82 623.63,409.27 621.6,407.4 C619.57,405.53 618.77,401.85 618.6,399.3 C618.43,396.75 619.75,394.32 620.6,392.1 C621.45,389.88 623.35,388.03 623.7,386 C624.05,383.97 624.07,381.6 622.7,379.9 C621.33,378.2 617.55,377.52 615.5,375.8 C613.45,374.08 610.92,372.17 610.4,369.6 C609.88,367.03 610.7,362.27 612.4,360.4 Z"/></clipPath>
<path d="M612.4,360.4 C614.1,358.53 617.53,358.4 620.6,358.4 C623.67,358.4 628.23,358.7 630.8,360.4 C633.37,362.1 634.97,365.53 636,368.6 C637.03,371.67 636.15,376.25 637,378.8 C637.85,381.35 638.03,383.22 641.1,383.9 C644.17,384.58 650.3,383.07 655.4,382.9 C660.5,382.73 667.97,381.88 671.7,382.9 C675.43,383.92 676.95,386.27 677.8,389 C678.65,391.73 677.47,395.72 676.8,399.3 C676.13,402.88 676.02,408.28 673.8,410.5 C671.58,412.72 667.93,412.43 663.5,412.6 C659.07,412.77 652.65,411.85 647.2,411.5 C641.75,411.15 635.07,411.18 630.8,410.5 C626.53,409.82 623.63,409.27 621.6,407.4 C619.57,405.53 618.77,401.85 618.6,399.3 C618.43,396.75 619.75,394.32 620.6,392.1 C621.45,389.88 623.35,388.03 623.7,386 C624.05,383.97 624.07,381.6 622.7,379.9 C621.33,378.2 617.55,377.52 615.5,375.8 C613.45,374.08 610.92,372.17 610.4,369.6 C609.88,367.03 610.7,362.27 612.4,360.4 Z" fill="url(#mesh)" stroke="#9a9a9a" stroke-width="3.0" stroke-opacity="0.4" clip-path="url(#cp45)"/>
<path d="M612.4,360.4 C614.1,358.53 617.53,358.4 620.6,358.4 C623.67,358.4 628.23,358.7 630.8,360.4 C633.37,362.1 634.97,365.53 636,368.6 C637.03,371.67 636.15,376.25 637,378.8 C637.85,381.35 638.03,383.22 641.1,383.9 C644.17,384.58 650.3,383.07 655.4,382.9 C660.5,382.73 667.97,381.88 671.7,382.9 C675.43,383.92 676.95,386.27 677.8,389 C678.65,391.73 677.47,395.72 676.8,399.3 C676.13,402.88 676.02,408.28 673.8,410.5 C671.58,412.72 667.93,412.43 663.5,412.6 C659.07,412.77 652.65,411.85 647.2,411.5 C641.75,411.15 635.07,411.18 630.8,410.5 C626.53,409.82 623.63,409.27 621.6,407.4 C619.57,405.53 618.77,401.85 618.6,399.3 C618.43,396.75 619.75,394.32 620.6,392.1 C621.45,389.88 623.35,388.03 623.7,386 C624.05,383.97 624.07,381.6 622.7,379.9 C621.33,378.2 617.55,377.52 615.5,375.8 C613.45,374.08 610.92,372.17 610.4,369.6 C609.88,367.03 610.7,362.27 612.4,360.4 Z" fill="none" stroke="#8a8a8a" stroke-width="0.7"/>
<polygon points="639,392.1 651.3,388 661.5,393.1 660.5,401.3 649.2,404.4 638,399.3" fill="none" stroke="#40e020" stroke-width="1.7" stroke-linejoin="round"/>
<polyline points="639,392.1 629.8,386 628.8,370.7" fill="none" stroke="#40e020" stroke-width="1.7" stroke-linejoin="round"/>
<line x1="628.8" y1="370.7" x2="624.7" y2="366.8" stroke="#3030e0" stroke-width="1.6" />
<line x1="624.4" y1="367.2" x2="619.6" y2="366.6" stroke="#e03040" stroke-width="1.4" />
<line x1="661.5" y1="393.1" x2="666.5" y2="391" stroke="#40e020" stroke-width="1.6" />
<line x1="666.5" y1="391" x2="671.7" y2="389" stroke="#3030e0" stroke-width="1.6" />
<line x1="660.5" y1="401.3" x2="665" y2="402.8" stroke="#40e020" stroke-width="1.6" />
<line x1="665" y1="402.8" x2="669.7" y2="404.4" stroke="#e03040" stroke-width="1.6" />
<line x1="638" y1="399.3" x2="632.4" y2="400.3" stroke="#40e020" stroke-width="1.6" />
<line x1="632.4" y1="400.3" x2="626.7" y2="401.3" stroke="#e03040" stroke-width="1.6" />
<circle cx="610" cy="390.6" r="1.7" fill="url(#cyan)"/>
<circle cx="679.5" cy="422" r="5" fill="url(#cu)"/>
<circle cx="2.5" cy="422.5" r="5" fill="url(#cu)"/>
<text x="597.4" y="432" font-size="14.3" fill="#231f20" text-anchor="start" >1000 ms</text>
</g>
<g id="secC">
<text x="2.2" y="468.8" font-size="24" fill="#231f20" text-anchor="start" >c</text>
<line x1="66" y1="575.88" x2="667" y2="575.88" stroke="#b4b4b4" stroke-width="1.0" stroke-dasharray="1,1"/>
<line x1="66" y1="552.96" x2="667" y2="552.96" stroke="#b4b4b4" stroke-width="1.0" stroke-dasharray="1,1"/>
<line x1="66" y1="530.04" x2="667" y2="530.04" stroke="#b4b4b4" stroke-width="1.0" stroke-dasharray="1,1"/>
<line x1="66" y1="507.12" x2="667" y2="507.12" stroke="#b4b4b4" stroke-width="1.0" stroke-dasharray="1,1"/>
<polyline points="65,484.2 65,598.8 668,598.8 668,484.2" fill="none" stroke="#000" stroke-width="2"/>
<line x1="64" y1="484.2" x2="669" y2="484.2" stroke="#000" stroke-width="2" />
<line x1="57" y1="598.8" x2="65" y2="598.8" stroke="#000" stroke-width="2" />
<text x="55" y="603.8" font-size="14" fill="#000" text-anchor="end" >0</text>
<line x1="57" y1="575.88" x2="65" y2="575.88" stroke="#000" stroke-width="2" />
<text x="55" y="580.88" font-size="14" fill="#000" text-anchor="end" >20</text>
<line x1="57" y1="552.96" x2="65" y2="552.96" stroke="#000" stroke-width="2" />
<text x="55" y="557.96" font-size="14" fill="#000" text-anchor="end" >40</text>
<line x1="57" y1="530.04" x2="65" y2="530.04" stroke="#000" stroke-width="2" />
<text x="55" y="535.04" font-size="14" fill="#000" text-anchor="end" >60</text>
<line x1="57" y1="507.12" x2="65" y2="507.12" stroke="#000" stroke-width="2" />
<text x="55" y="512.12" font-size="14" fill="#000" text-anchor="end" >80</text>
<line x1="57" y1="484.2" x2="65" y2="484.2" stroke="#000" stroke-width="2" />
<text x="55" y="489.2" font-size="14" fill="#000" text-anchor="end" >100</text>
<line x1="108.8" y1="598.8" x2="108.8" y2="605.8" stroke="#000" stroke-width="1.8" />
<line x1="158.46" y1="598.8" x2="158.46" y2="602.8" stroke="#000" stroke-width="1.8" />
<line x1="193.69" y1="598.8" x2="193.69" y2="605.8" stroke="#000" stroke-width="1.8" />
<line x1="221.02" y1="598.8" x2="221.02" y2="602.8" stroke="#000" stroke-width="1.8" />
<line x1="243.35" y1="598.8" x2="243.35" y2="605.8" stroke="#000" stroke-width="1.8" />
<line x1="262.23" y1="598.8" x2="262.23" y2="602.8" stroke="#000" stroke-width="1.8" />
<line x1="278.58" y1="598.8" x2="278.58" y2="605.8" stroke="#000" stroke-width="1.8" />
<line x1="293.01" y1="598.8" x2="293.01" y2="602.8" stroke="#000" stroke-width="1.8" />
<line x1="306" y1="598.8" x2="306" y2="605.8" stroke="#000" stroke-width="1.8" />
<line x1="414.97" y1="598.8" x2="414.97" y2="605.8" stroke="#000" stroke-width="1.8" />
<line x1="478.72" y1="598.8" x2="478.72" y2="602.8" stroke="#000" stroke-width="1.8" />
<line x1="523.95" y1="598.8" x2="523.95" y2="605.8" stroke="#000" stroke-width="1.8" />
<line x1="559.03" y1="598.8" x2="559.03" y2="602.8" stroke="#000" stroke-width="1.8" />
<line x1="587.69" y1="598.8" x2="587.69" y2="605.8" stroke="#000" stroke-width="1.8" />
<line x1="611.93" y1="598.8" x2="611.93" y2="602.8" stroke="#000" stroke-width="1.8" />
<line x1="632.92" y1="598.8" x2="632.92" y2="605.8" stroke="#000" stroke-width="1.8" />
<line x1="651.44" y1="598.8" x2="651.44" y2="602.8" stroke="#000" stroke-width="1.8" />
<line x1="668" y1="598.8" x2="668" y2="605.8" stroke="#000" stroke-width="1.8" />
<text x="108.8" y="622.7" font-size="14" fill="#000" text-anchor="middle" >20</text>
<text x="193.69" y="622.7" font-size="14" fill="#000" text-anchor="middle" >40</text>
<text x="243.35" y="622.7" font-size="14" fill="#000" text-anchor="middle" >60</text>
<text x="278.58" y="622.7" font-size="14" fill="#000" text-anchor="middle" >80</text>
<text x="306" y="622.7" font-size="14" fill="#000" text-anchor="middle" >100</text>
<text x="414.97" y="622.7" font-size="14" fill="#000" text-anchor="middle" >200</text>
<text x="523.95" y="622.7" font-size="14" fill="#000" text-anchor="middle" >400</text>
<text x="587.69" y="622.7" font-size="14" fill="#000" text-anchor="middle" >600</text>
<text x="632.92" y="622.7" font-size="14" fill="#000" text-anchor="middle" >800</text>
<text x="668" y="622.7" font-size="14" fill="#000" text-anchor="middle" >1000</text>
<text x="363.7" y="641.6" font-size="14.5" fill="#000" text-anchor="middle" >Delay time (ms)</text>
<text x="0" y="0" font-size="14.7" fill="#000" text-anchor="middle" transform="translate(24.2,541.0) rotate(-90)">Relative amount (%)</text>
<path d="M65.5,505.52 L68.13,505.87 L70.76,506.23 L73.4,506.61 L76.03,507 L78.66,507.4 L81.29,507.82 L83.93,508.25 L86.56,508.69 L89.19,509.15 L91.82,509.62 L94.45,510.11 L97.09,510.61 L99.72,511.12 L102.35,511.65 L104.98,512.19 L107.62,512.74 L110.25,513.31 L112.88,513.89 L115.51,514.48 L118.14,515.09 L120.78,515.71 L123.41,516.34 L126.04,516.99 L128.67,517.65 L131.31,518.32 L133.94,519.01 L136.57,519.72 L139.2,520.43 L141.83,521.16 L144.47,521.9 L147.1,522.66 L149.73,523.43 L152.36,524.21 L154.99,525.01 L157.63,525.82 L160.26,526.64 L162.89,527.48 L165.52,528.33 L168.16,529.2 L170.79,530.08 L173.42,530.97 L176.05,531.87 L178.68,532.79 L181.32,533.72 L183.95,534.67 L186.58,535.63 L189.21,536.6 L191.85,537.59 L194.48,538.59 L197.11,539.6 L199.74,540.63 L202.37,541.67 L205.01,542.73 L207.64,543.79 L210.27,544.88 L212.9,545.97 L215.54,547.08 L218.17,548.2 L220.8,549.34" fill="none" stroke="#f0a030" stroke-width="1.6" stroke-linejoin="round"/>
<path d="M65.5,577.4 L68.13,576.98 L70.76,576.55 L73.4,576.1 L76.03,575.64 L78.66,575.17 L81.29,574.69 L83.93,574.2 L86.56,573.7 L89.19,573.18 L91.82,572.65 L94.45,572.11 L97.09,571.56 L99.72,571 L102.35,570.42 L104.98,569.83 L107.62,569.24 L110.25,568.63 L112.88,568 L115.51,567.37 L118.14,566.72 L120.78,566.07 L123.41,565.4 L126.04,564.71 L128.67,564.02 L131.31,563.32 L133.94,562.6 L136.57,561.87 L139.2,561.13 L141.83,560.38 L144.47,559.62 L147.1,558.84 L149.73,558.05 L152.36,557.26 L154.99,556.44 L157.63,555.62 L160.26,554.79 L162.89,553.94 L165.52,553.08 L168.16,552.21 L170.79,551.33 L173.42,550.44 L176.05,549.54 L178.68,548.62 L181.32,547.69 L183.95,546.75 L186.58,545.8 L189.21,544.83 L191.85,543.86 L194.48,542.87 L197.11,541.87 L199.74,540.86 L202.37,539.84 L205.01,538.8 L207.64,537.76 L210.27,536.7 L212.9,535.63 L215.54,534.55 L218.17,533.46 L220.8,532.35" fill="none" stroke="#8a1ff0" stroke-width="1.6" stroke-linejoin="round"/>
<path d="M306.2,512.22 L310.78,512.95 L315.36,513.69 L319.94,514.46 L324.52,515.25 L329.1,516.07 L333.68,516.91 L338.26,517.76 L342.84,518.64 L347.42,519.54 L352,520.46 L356.58,521.4 L361.16,522.36 L365.74,523.33 L370.32,524.32 L374.9,525.33 L379.48,526.36 L384.06,527.4 L388.64,528.46 L393.22,529.53 L397.79,530.61 L402.37,531.71 L406.95,532.82 L411.53,533.95 L416.11,535.08 L420.69,536.23 L425.27,537.39 L429.85,538.56 L434.43,539.74 L439.01,540.93 L443.59,542.12 L448.17,543.33 L452.75,544.54 L457.33,545.76 L461.91,546.98 L466.49,548.21 L471.07,549.45 L475.65,550.69 L480.23,551.94 L484.81,553.18 L489.39,554.44 L493.97,555.69 L498.55,556.95 L503.13,558.21 L507.71,559.46 L512.29,560.72 L516.87,561.98 L521.45,563.24 L526.03,564.5 L530.61,565.75 L535.19,567 L539.77,568.25 L544.35,569.5 L548.93,570.74 L553.51,571.98 L558.09,573.21 L562.67,574.43 L567.25,575.65 L571.83,576.86 L576.41,578.07 L580.98,579.27 L585.56,580.45 L590.14,581.63 L594.72,582.8 L599.3,583.96 L603.88,585.11 L608.46,586.25 L613.04,587.37 L617.62,588.49 L622.2,589.59 L626.78,590.67 L631.36,591.74 L635.94,592.8 L640.52,593.84 L645.1,594.87 L649.68,595.88 L654.26,596.87 L658.84,597.85 L663.42,598.81 L668,599.75" fill="none" stroke="#ff40ff" stroke-width="1.6" stroke-linejoin="round"/>
<path d="M306.2,571.27 L310.78,570.48 L315.36,569.67 L319.94,568.84 L324.52,568 L329.1,567.13 L333.68,566.24 L338.26,565.33 L342.84,564.41 L347.42,563.47 L352,562.51 L356.58,561.54 L361.16,560.55 L365.74,559.54 L370.32,558.52 L374.9,557.48 L379.48,556.43 L384.06,555.37 L388.64,554.29 L393.22,553.2 L397.79,552.1 L402.37,550.98 L406.95,549.86 L411.53,548.72 L416.11,547.57 L420.69,546.42 L425.27,545.25 L429.85,544.08 L434.43,542.9 L439.01,541.71 L443.59,540.51 L448.17,539.3 L452.75,538.09 L457.33,536.88 L461.91,535.65 L466.49,534.43 L471.07,533.2 L475.65,531.96 L480.23,530.72 L484.81,529.48 L489.39,528.24 L493.97,526.99 L498.55,525.75 L503.13,524.5 L507.71,523.25 L512.29,522 L516.87,520.75 L521.45,519.51 L526.03,518.26 L530.61,517.02 L535.19,515.78 L539.77,514.54 L544.35,513.31 L548.93,512.07 L553.51,510.85 L558.09,509.63 L562.67,508.41 L567.25,507.2 L571.83,506 L576.41,504.8 L580.98,503.61 L585.56,502.43 L590.14,501.26 L594.72,500.1 L599.3,498.94 L603.88,497.8 L608.46,496.66 L613.04,495.54 L617.62,494.43 L622.2,493.33 L626.78,492.24 L631.36,491.16 L635.94,490.1 L640.52,489.05 L645.1,488.02 L649.68,487 L654.26,486 L658.84,485.01 L663.42,484.04 L668,483.08" fill="none" stroke="#44ee22" stroke-width="1.6" stroke-linejoin="round"/>
<circle cx="120.4" cy="515.5" r="4.1" fill="#f0a030"/>
<circle cx="136.2" cy="531.8" r="4.1" fill="#f0a030"/>
<circle cx="221" cy="543" r="4.1" fill="#f0a030"/>
<line x1="136.2" y1="526.6" x2="136.2" y2="537" stroke="#f0a030" stroke-width="1.2" />
<line x1="134.4" y1="526.6" x2="138" y2="526.6" stroke="#f0a030" stroke-width="1.1" />
<line x1="134.4" y1="537" x2="138" y2="537" stroke="#f0a030" stroke-width="1.1" />
<circle cx="120.4" cy="567" r="4.1" fill="#8a1ff0"/>
<circle cx="136.2" cy="550.4" r="4.1" fill="#8a1ff0"/>
<circle cx="221" cy="539" r="4.1" fill="#8a1ff0"/>
<line x1="136.2" y1="545.8" x2="136.2" y2="555.4" stroke="#8a1ff0" stroke-width="1.2" />
<line x1="134.4" y1="545.8" x2="138" y2="545.8" stroke="#8a1ff0" stroke-width="1.1" />
<line x1="134.4" y1="555.4" x2="138" y2="555.4" stroke="#8a1ff0" stroke-width="1.1" />
<circle cx="306.2" cy="511.3" r="4.1" fill="#ff40ff"/>
<circle cx="415" cy="535.5" r="4.1" fill="#ff40ff"/>
<circle cx="478.8" cy="553.4" r="4.1" fill="#ff40ff"/>
<circle cx="524" cy="562.9" r="4.1" fill="#ff40ff"/>
<circle cx="559.1" cy="568.8" r="4.1" fill="#ff40ff"/>
<circle cx="668" cy="598.6" r="4.1" fill="#ff40ff"/>
<circle cx="306.2" cy="571" r="4.1" fill="#44ee22"/>
<circle cx="415" cy="546.8" r="4.1" fill="#44ee22"/>
<circle cx="478.8" cy="529" r="4.1" fill="#44ee22"/>
<circle cx="524" cy="519.5" r="4.1" fill="#44ee22"/>
<circle cx="559.1" cy="513.3" r="4.1" fill="#44ee22"/>
<circle cx="668" cy="484.2" r="4.1" fill="#44ee22"/>
<text x="79.7" y="500.2" font-size="13.5" fill="#f0a030" text-anchor="start" >TPQ<tspan font-size="9.4" dy="2.8">ox</tspan></text>
<text x="72.6" y="590.3" font-size="13.5" fill="#8a1ff0" text-anchor="start" >TPQ<tspan font-size="9.4" dy="2.8">psb</tspan></text>
<text x="282.9" y="500.2" font-size="13.5" fill="#ff40ff" text-anchor="start" >TPQ<tspan font-size="9.4" dy="2.8">amr</tspan></text>
<text x="288.4" y="590.4" font-size="13.5" fill="#44ee22" text-anchor="start" >TPQ<tspan font-size="9.4" dy="2.8">sq</tspan></text>
</g>
</svg>
</body></html>
